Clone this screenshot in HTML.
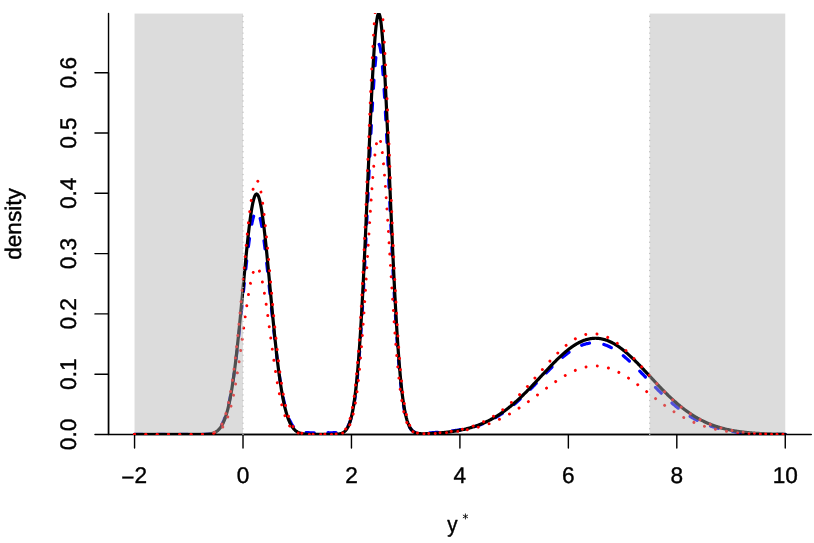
<!DOCTYPE html>
<html><head><meta charset="utf-8"><title>density</title>
<style>
html,body{margin:0;padding:0;background:#fff;}
body{width:814px;height:543px;overflow:hidden;}
svg{display:block;will-change:transform;}
text{font-family:"Liberation Sans",sans-serif;font-size:22.61px;fill:#000;text-rendering:geometricPrecision;stroke:#000;stroke-width:0.4px;stroke-linejoin:round;}
</style></head><body>
<svg width="814" height="543" viewBox="0 0 814 543">
<rect x="0" y="0" width="814" height="543" fill="#fff"/>
<defs><clipPath id="c"><rect x="108" y="13" width="704" height="422"/></clipPath></defs>
<g fill="none" stroke="#000" stroke-width="1.413" stroke-linecap="round" stroke-linejoin="round">
<path d="M108.53,13.57 V434.47 H811.29"/>
<path d="M134.56,434.47 H785.26 M134.56,434.47 v13.57 M243.01,434.47 v13.57 M351.46,434.47 v13.57 M459.91,434.47 v13.57 M568.36,434.47 v13.57 M676.81,434.47 v13.57 M785.26,434.47 v13.57"/>
<path d="M108.53,434.47 V72.74 M108.53,434.47 h-13.57 M108.53,374.18 h-13.57 M108.53,313.89 h-13.57 M108.53,253.60 h-13.57 M108.53,193.31 h-13.57 M108.53,133.03 h-13.57 M108.53,72.74 h-13.57"/>
</g>
<g clip-path="url(#c)" fill="none" stroke-linecap="round" stroke-linejoin="round">
<path d="M134.56,434.47 L135.10,434.47 L135.65,434.47 L136.19,434.47 L136.73,434.47 L137.27,434.47 L137.81,434.47 L138.36,434.47 L138.90,434.47 L139.44,434.47 L139.98,434.47 L140.53,434.47 L141.07,434.47 L141.61,434.47 L142.15,434.47 L142.69,434.47 L143.24,434.47 L143.78,434.47 L144.32,434.47 L144.86,434.47 L145.41,434.47 L145.95,434.47 L146.49,434.47 L147.03,434.47 L147.58,434.47 L148.12,434.47 L148.66,434.47 L149.20,434.47 L149.74,434.47 L150.29,434.47 L150.83,434.47 L151.37,434.47 L151.91,434.47 L152.46,434.47 L153.00,434.47 L153.54,434.47 L154.08,434.47 L154.62,434.47 L155.17,434.47 L155.71,434.47 L156.25,434.47 L156.79,434.47 L157.34,434.47 L157.88,434.47 L158.42,434.47 L158.96,434.47 L159.50,434.47 L160.05,434.47 L160.59,434.47 L161.13,434.47 L161.67,434.47 L162.22,434.47 L162.76,434.47 L163.30,434.47 L163.84,434.47 L164.38,434.47 L164.93,434.47 L165.47,434.47 L166.01,434.47 L166.55,434.47 L167.10,434.47 L167.64,434.47 L168.18,434.47 L168.72,434.47 L169.27,434.47 L169.81,434.47 L170.35,434.47 L170.89,434.47 L171.43,434.47 L171.98,434.47 L172.52,434.47 L173.06,434.47 L173.60,434.47 L174.15,434.47 L174.69,434.47 L175.23,434.47 L175.77,434.47 L176.31,434.47 L176.86,434.47 L177.40,434.47 L177.94,434.47 L178.48,434.47 L179.03,434.47 L179.57,434.47 L180.11,434.47 L180.65,434.47 L181.19,434.47 L181.74,434.47 L182.28,434.47 L182.82,434.47 L183.36,434.47 L183.91,434.47 L184.45,434.47 L184.99,434.47 L185.53,434.47 L186.07,434.47 L186.62,434.47 L187.16,434.47 L187.70,434.47 L188.24,434.47 L188.79,434.46 L189.33,434.46 L189.87,434.46 L190.41,434.46 L190.96,434.46 L191.50,434.46 L192.04,434.46 L192.58,434.46 L193.12,434.46 L193.67,434.46 L194.21,434.46 L194.75,434.45 L195.29,434.45 L195.84,434.45 L196.38,434.45 L196.92,434.44 L197.46,434.44 L198.00,434.43 L198.55,434.43 L199.09,434.42 L199.63,434.41 L200.17,434.40 L200.72,434.39 L201.26,434.38 L201.80,434.37 L202.34,434.35 L202.88,434.33 L203.43,434.31 L203.97,434.28 L204.51,434.26 L205.05,434.22 L205.60,434.19 L206.14,434.14 L206.68,434.10 L207.22,434.04 L207.76,433.98 L208.31,433.91 L208.85,433.83 L209.39,433.74 L209.93,433.64 L210.48,433.52 L211.02,433.39 L211.56,433.25 L212.10,433.09 L212.64,432.91 L213.19,432.71 L213.73,432.48 L214.27,432.23 L214.81,431.95 L215.36,431.65 L215.90,431.30 L216.44,430.93 L216.98,430.51 L217.53,430.05 L218.07,429.55 L218.61,428.99 L219.15,428.39 L219.69,427.72 L220.24,427.00 L220.78,426.21 L221.32,425.35 L221.86,424.41 L222.41,423.40 L222.95,422.30 L223.49,421.11 L224.03,419.83 L224.57,418.46 L225.12,416.97 L225.66,415.38 L226.20,413.68 L226.74,411.86 L227.29,409.91 L227.83,407.84 L228.37,405.64 L228.91,403.30 L229.45,400.83 L230.00,398.21 L230.54,395.45 L231.08,392.54 L231.62,389.48 L232.17,386.28 L232.71,382.92 L233.25,379.41 L233.79,375.75 L234.33,371.94 L234.88,367.99 L235.42,363.89 L235.96,359.66 L236.50,355.29 L237.05,350.79 L237.59,346.17 L238.13,341.44 L238.67,336.60 L239.22,331.66 L239.76,326.64 L240.30,321.54 L240.84,316.39 L241.38,311.18 L241.93,305.94 L242.47,300.68 L243.01,295.41 L243.55,290.15 L244.10,284.93 L244.64,279.74 L245.18,274.62 L245.72,269.58 L246.26,264.64 L246.81,259.82 L247.35,255.13 L247.89,250.59 L248.43,246.22 L248.98,242.04 L249.52,238.06 L250.06,234.31 L250.60,230.79 L251.14,227.53 L251.69,224.52 L252.23,221.80 L252.77,219.37 L253.31,217.24 L253.86,215.42 L254.40,213.91 L254.94,212.74 L255.48,211.89 L256.02,211.38 L256.57,211.20 L257.11,211.36 L257.65,211.86 L258.19,212.69 L258.74,213.86 L259.28,215.35 L259.82,217.15 L260.36,219.27 L260.91,221.69 L261.45,224.40 L261.99,227.39 L262.53,230.64 L263.07,234.14 L263.62,237.88 L264.16,241.84 L264.70,246.01 L265.24,250.36 L265.79,254.89 L266.33,259.56 L266.87,264.37 L267.41,269.30 L267.95,274.33 L268.50,279.43 L269.04,284.60 L269.58,289.81 L270.12,295.05 L270.67,300.30 L271.21,305.55 L271.75,310.77 L272.29,315.96 L272.83,321.11 L273.38,326.19 L273.92,331.19 L274.46,336.11 L275.00,340.94 L275.55,345.65 L276.09,350.26 L276.63,354.74 L277.17,359.09 L277.71,363.31 L278.26,367.39 L278.80,371.33 L279.34,375.12 L279.88,378.76 L280.43,382.25 L280.97,385.59 L281.51,388.78 L282.05,391.82 L282.59,394.71 L283.14,397.45 L283.68,400.05 L284.22,402.51 L284.76,404.83 L285.31,407.01 L285.85,409.07 L286.39,410.99 L286.93,412.79 L287.48,414.48 L288.02,416.05 L288.56,417.52 L289.10,418.88 L289.64,420.14 L290.19,421.31 L290.73,422.39 L291.27,423.38 L291.81,424.30 L292.36,425.14 L292.90,425.91 L293.44,426.62 L293.98,427.27 L294.52,427.85 L295.07,428.39 L295.61,428.88 L296.15,429.32 L296.69,429.72 L297.24,430.08 L297.78,430.40 L298.32,430.69 L298.86,430.95 L299.40,431.18 L299.95,431.39 L300.49,431.58 L301.03,431.74 L301.57,431.89 L302.12,432.01 L302.66,432.13 L303.20,432.23 L303.74,432.31 L304.28,432.39 L304.83,432.45 L305.37,432.51 L305.91,432.56 L306.45,432.60 L307.00,432.63 L307.54,432.66 L308.08,432.68 L308.62,432.70 L309.17,432.72 L309.71,432.73 L310.25,432.74 L310.79,432.75 L311.33,432.75 L311.88,432.76 L312.42,432.76 L312.96,432.76 L313.50,432.76 L314.05,432.76 L314.59,432.76 L315.13,432.75 L315.67,432.75 L316.21,432.75 L316.76,432.75 L317.30,432.74 L317.84,432.74 L318.38,432.74 L318.93,432.73 L319.47,432.73 L320.01,432.73 L320.55,432.72 L321.09,432.72 L321.64,432.72 L322.18,432.72 L322.72,432.72 L323.26,432.72 L323.81,432.72 L324.35,432.72" stroke="#0000ff" stroke-width="3.2" stroke-dasharray="8.11 14.51" stroke-dashoffset="0.00"/>
<path d="M324.35,432.72 L324.89,432.72 L325.43,432.72 L325.97,432.72 L326.52,432.72 L327.06,432.72 L327.60,432.72 L328.14,432.72 L328.69,432.72 L329.23,432.73 L329.77,432.73 L330.31,432.73 L330.85,432.73 L331.40,432.73 L331.94,432.73 L332.48,432.73 L333.02,432.72 L333.57,432.72 L334.11,432.71 L334.65,432.70 L335.19,432.69 L335.74,432.67 L336.28,432.65 L336.82,432.62 L337.36,432.58 L337.90,432.54 L338.45,432.48 L338.99,432.41 L339.53,432.33 L340.07,432.23 L340.62,432.11 L341.16,431.97 L341.70,431.80 L342.24,431.61 L342.78,431.37 L343.33,431.10 L343.87,430.78 L344.41,430.41 L344.95,429.99 L345.50,429.49 L346.04,428.92 L346.58,428.27 L347.12,427.53 L347.66,426.68 L348.21,425.71 L348.75,424.62 L349.29,423.38 L349.83,421.99 L350.38,420.43 L350.92,418.68 L351.46,416.73 L352.00,414.56 L352.54,412.15 L353.09,409.49 L353.63,406.55 L354.17,403.33 L354.71,399.79 L355.26,395.93 L355.80,391.72 L356.34,387.15 L356.88,382.20 L357.43,376.86 L357.97,371.12 L358.51,364.96 L359.05,358.38 L359.59,351.36 L360.14,343.92 L360.68,336.03 L361.22,327.72 L361.76,318.98 L362.31,309.83 L362.85,300.27 L363.39,290.34 L363.93,280.04 L364.47,269.42 L365.02,258.49 L365.56,247.30 L366.10,235.89 L366.64,224.31 L367.19,212.59 L367.73,200.81 L368.27,189.00 L368.81,177.24 L369.35,165.58 L369.90,154.09 L370.44,142.84 L370.98,131.88 L371.52,121.30 L372.07,111.15 L372.61,101.50 L373.15,92.42 L373.69,83.96 L374.23,76.19 L374.78,69.16 L375.32,62.92 L375.86,57.51 L376.40,52.98 L376.95,49.36 L377.49,46.67 L378.03,44.93 L378.57,44.16 L379.12,44.37 L379.66,45.55 L380.20,47.69 L380.74,50.77 L381.28,54.79 L381.83,59.69 L382.37,65.46 L382.91,72.05 L383.45,79.40 L384.00,87.47 L384.54,96.21 L385.08,105.54 L385.62,115.42 L386.16,125.77 L386.71,136.53 L387.25,147.64 L387.79,159.01 L388.33,170.60 L388.88,182.32 L389.42,194.13 L389.96,205.96 L390.50,217.74 L391.04,229.43 L391.59,240.97 L392.13,252.31 L392.67,263.42 L393.21,274.24 L393.76,284.76 L394.30,294.93 L394.84,304.73 L395.38,314.15 L395.92,323.15 L396.47,331.74 L397.01,339.90 L397.55,347.62 L398.09,354.91 L398.64,361.76 L399.18,368.19 L399.72,374.19 L400.26,379.79 L400.80,384.98 L401.35,389.79 L401.89,394.22 L402.43,398.30 L402.97,402.04 L403.52,405.46 L404.06,408.58 L404.60,411.41 L405.14,413.97 L405.69,416.29 L406.23,418.38 L406.77,420.25 L407.31,421.93 L407.85,423.42 L408.40,424.75 L408.94,425.93 L409.48,426.97 L410.02,427.89 L410.57,428.70 L411.11,429.40 L411.65,430.02 L412.19,430.55 L412.73,431.01 L413.28,431.41 L413.82,431.75 L414.36,432.04 L414.90,432.29 L415.45,432.50 L415.99,432.67 L416.53,432.82 L417.07,432.94 L417.61,433.03 L418.16,433.11 L418.70,433.17 L419.24,433.22 L419.78,433.25 L420.33,433.27 L420.87,433.29 L421.41,433.29 L421.95,433.29 L422.49,433.28 L423.04,433.27 L423.58,433.25 L424.12,433.23 L424.66,433.21 L425.21,433.18 L425.75,433.16 L426.29,433.12 L426.83,433.09 L427.38,433.06 L427.92,433.02 L428.46,432.99 L429.00,432.95 L429.54,432.91 L430.09,432.87 L430.63,432.83 L431.17,432.79 L431.71,432.75 L432.26,432.71 L432.80,432.67 L433.34,432.62 L433.88,432.58 L434.42,432.54 L434.97,432.49 L435.51,432.45 L436.05,432.41 L436.59,432.36 L437.14,432.32 L437.68,432.27 L438.22,432.22 L438.76,432.18 L439.30,432.13 L439.85,432.08 L440.39,432.04 L440.93,431.99 L441.47,431.94 L442.02,431.89 L442.56,431.84 L443.10,431.79 L443.64,431.74 L444.18,431.69 L444.73,431.64 L445.27,431.59 L445.81,431.54 L446.35,431.49 L446.90,431.43 L447.44,431.38 L447.98,431.33 L448.52,431.27 L449.07,431.22 L449.61,431.16 L450.15,431.10 L450.69,431.04 L451.23,430.98 L451.78,430.92 L452.32,430.86 L452.86,430.80 L453.40,430.73 L453.95,430.67 L454.49,430.60 L455.03,430.53 L455.57,430.46 L456.11,430.39 L456.66,430.32 L457.20,430.25 L457.74,430.17 L458.28,430.09 L458.83,430.01 L459.37,429.93 L459.91,429.85" stroke="#0000ff" stroke-width="3.2" stroke-dasharray="8.11 14.51" stroke-dashoffset="-3.60"/>
<path d="M459.91,429.85 L460.45,429.77 L460.99,429.68 L461.54,429.59 L462.08,429.50 L462.62,429.40 L463.16,429.31 L463.71,429.21 L464.25,429.11 L464.79,429.00 L465.33,428.90 L465.87,428.79 L466.42,428.68 L466.96,428.56 L467.50,428.45 L468.04,428.33 L468.59,428.21 L469.13,428.08 L469.67,427.95 L470.21,427.82 L470.75,427.68 L471.30,427.55 L471.84,427.41 L472.38,427.26 L472.92,427.11 L473.47,426.96 L474.01,426.81 L474.55,426.65 L475.09,426.49 L475.64,426.32 L476.18,426.16 L476.72,425.98 L477.26,425.81 L477.80,425.63 L478.35,425.45 L478.89,425.26 L479.43,425.07 L479.97,424.88 L480.52,424.68 L481.06,424.48 L481.60,424.27 L482.14,424.06 L482.68,423.85 L483.23,423.63 L483.77,423.41 L484.31,423.19 L484.85,422.96 L485.40,422.73 L485.94,422.49 L486.48,422.25 L487.02,422.00 L487.56,421.75 L488.11,421.50 L488.65,421.24 L489.19,420.98 L489.73,420.72 L490.28,420.45 L490.82,420.17 L491.36,419.89 L491.90,419.61 L492.44,419.33 L492.99,419.03 L493.53,418.74 L494.07,418.44 L494.61,418.14 L495.16,417.83 L495.70,417.52 L496.24,417.20 L496.78,416.88 L497.33,416.56 L497.87,416.23 L498.41,415.89 L498.95,415.56 L499.49,415.22 L500.04,414.87 L500.58,414.52 L501.12,414.16 L501.66,413.81 L502.21,413.44 L502.75,413.07 L503.29,412.70 L503.83,412.33 L504.37,411.95 L504.92,411.56 L505.46,411.17 L506.00,410.78 L506.54,410.38 L507.09,409.98 L507.63,409.58 L508.17,409.17 L508.71,408.75 L509.25,408.34 L509.80,407.91 L510.34,407.49 L510.88,407.06 L511.42,406.62 L511.97,406.19 L512.51,405.74 L513.05,405.30 L513.59,404.85 L514.13,404.39 L514.68,403.94 L515.22,403.48 L515.76,403.01 L516.30,402.54 L516.85,402.07 L517.39,401.59 L517.93,401.11 L518.47,400.63 L519.02,400.15 L519.56,399.66 L520.10,399.16 L520.64,398.67 L521.18,398.17 L521.73,397.66 L522.27,397.16 L522.81,396.65 L523.35,396.14 L523.90,395.62 L524.44,395.10 L524.98,394.58 L525.52,394.06 L526.06,393.53 L526.61,393.00 L527.15,392.47 L527.69,391.94 L528.23,391.40 L528.78,390.87 L529.32,390.32 L529.86,389.78 L530.40,389.24 L530.94,388.69 L531.49,388.14 L532.03,387.59 L532.57,387.04 L533.11,386.49 L533.66,385.93 L534.20,385.38 L534.74,384.82 L535.28,384.26 L535.82,383.70 L536.37,383.14 L536.91,382.58 L537.45,382.02 L537.99,381.46 L538.54,380.89 L539.08,380.33 L539.62,379.77 L540.16,379.20 L540.70,378.64 L541.25,378.08 L541.79,377.51 L542.33,376.95 L542.87,376.39 L543.42,375.82 L543.96,375.26 L544.50,374.70 L545.04,374.14 L545.59,373.58 L546.13,373.02 L546.67,372.47 L547.21,371.91 L547.75,371.36 L548.30,370.81 L548.84,370.26 L549.38,369.71 L549.92,369.16 L550.47,368.62 L551.01,368.08 L551.55,367.54 L552.09,367.00 L552.63,366.47 L553.18,365.93 L553.72,365.41 L554.26,364.88 L554.80,364.36 L555.35,363.84 L555.89,363.33 L556.43,362.81 L556.97,362.31 L557.51,361.80 L558.06,361.30 L558.60,360.81 L559.14,360.32 L559.68,359.83 L560.23,359.35 L560.77,358.87 L561.31,358.40 L561.85,357.93 L562.39,357.47 L562.94,357.01 L563.48,356.56 L564.02,356.11 L564.56,355.67 L565.11,355.23 L565.65,354.80 L566.19,354.38 L566.73,353.96 L567.28,353.55 L567.82,353.14 L568.36,352.74 L568.90,352.35 L569.44,351.96 L569.99,351.58 L570.53,351.21 L571.07,350.85 L571.61,350.49 L572.16,350.14 L572.70,349.79 L573.24,349.46 L573.78,349.13 L574.32,348.81 L574.87,348.49 L575.41,348.19 L575.95,347.89 L576.49,347.60 L577.04,347.31 L577.58,347.04 L578.12,346.77 L578.66,346.52 L579.20,346.27 L579.75,346.02 L580.29,345.79 L580.83,345.57 L581.37,345.35 L581.92,345.15 L582.46,344.95 L583.00,344.76 L583.54,344.58 L584.08,344.41 L584.63,344.24 L585.17,344.09 L585.71,343.94 L586.25,343.81 L586.80,343.68 L587.34,343.57 L587.88,343.46 L588.42,343.36 L588.97,343.27 L589.51,343.19 L590.05,343.12 L590.59,343.06 L591.13,343.01 L591.68,342.96 L592.22,342.93 L592.76,342.91 L593.30,342.89 L593.85,342.89 L594.39,342.89 L594.93,342.91 L595.47,342.93 L596.01,342.96 L596.56,343.01 L597.10,343.06 L597.64,343.12 L598.18,343.19 L598.73,343.27 L599.27,343.36 L599.81,343.46 L600.35,343.57 L600.89,343.68 L601.44,343.81 L601.98,343.94 L602.52,344.09 L603.06,344.24 L603.61,344.41 L604.15,344.58 L604.69,344.76 L605.23,344.95 L605.77,345.15 L606.32,345.35 L606.86,345.57 L607.40,345.79 L607.94,346.02 L608.49,346.27 L609.03,346.52 L609.57,346.77 L610.11,347.04 L610.65,347.31 L611.20,347.60 L611.74,347.89 L612.28,348.19 L612.82,348.49 L613.37,348.81 L613.91,349.13 L614.45,349.46 L614.99,349.79 L615.54,350.14 L616.08,350.49 L616.62,350.85 L617.16,351.21 L617.70,351.58 L618.25,351.96 L618.79,352.35 L619.33,352.74 L619.87,353.14 L620.42,353.55 L620.96,353.96 L621.50,354.38 L622.04,354.80 L622.58,355.23 L623.13,355.67 L623.67,356.11 L624.21,356.56 L624.75,357.01 L625.30,357.47 L625.84,357.93 L626.38,358.40 L626.92,358.87 L627.46,359.35 L628.01,359.83 L628.55,360.32 L629.09,360.81 L629.63,361.30 L630.18,361.80 L630.72,362.31 L631.26,362.81 L631.80,363.33 L632.34,363.84 L632.89,364.36 L633.43,364.88 L633.97,365.41 L634.51,365.93 L635.06,366.47 L635.60,367.00 L636.14,367.54 L636.68,368.08 L637.23,368.62 L637.77,369.16 L638.31,369.71 L638.85,370.26 L639.39,370.81 L639.94,371.36 L640.48,371.91 L641.02,372.47 L641.56,373.02 L642.11,373.58 L642.65,374.14 L643.19,374.70 L643.73,375.26 L644.27,375.82 L644.82,376.39 L645.36,376.95 L645.90,377.51 L646.44,378.08 L646.99,378.64 L647.53,379.20 L648.07,379.77 L648.61,380.33 L649.15,380.89 L649.70,381.46 L650.24,382.02 L650.78,382.58 L651.32,383.14 L651.87,383.70 L652.41,384.26 L652.95,384.82 L653.49,385.38 L654.03,385.93 L654.58,386.49 L655.12,387.04 L655.66,387.59 L656.20,388.14 L656.75,388.69 L657.29,389.24 L657.83,389.78 L658.37,390.32 L658.91,390.87 L659.46,391.40 L660.00,391.94 L660.54,392.47 L661.08,393.00 L661.63,393.53 L662.17,394.06 L662.71,394.58 L663.25,395.10 L663.80,395.62 L664.34,396.14 L664.88,396.65 L665.42,397.16 L665.96,397.66 L666.51,398.17 L667.05,398.67 L667.59,399.16 L668.13,399.66 L668.68,400.15 L669.22,400.63 L669.76,401.11 L670.30,401.59 L670.84,402.07 L671.39,402.54 L671.93,403.01 L672.47,403.48 L673.01,403.94 L673.56,404.40 L674.10,404.85 L674.64,405.30 L675.18,405.74 L675.72,406.19 L676.27,406.63 L676.81,407.06 L677.35,407.49 L677.89,407.92 L678.44,408.34 L678.98,408.76 L679.52,409.17 L680.06,409.58 L680.60,409.99 L681.15,410.39 L681.69,410.78 L682.23,411.18 L682.77,411.57 L683.32,411.95 L683.86,412.33 L684.40,412.71 L684.94,413.08 L685.49,413.45 L686.03,413.81 L686.57,414.17 L687.11,414.53 L687.65,414.88 L688.20,415.23 L688.74,415.57 L689.28,415.91 L689.82,416.24 L690.37,416.57 L690.91,416.90 L691.45,417.22 L691.99,417.54 L692.53,417.85 L693.08,418.16 L693.62,418.47 L694.16,418.77 L694.70,419.07 L695.25,419.36 L695.79,419.65 L696.33,419.94 L696.87,420.22 L697.41,420.49 L697.96,420.77 L698.50,421.04 L699.04,421.30 L699.58,421.56 L700.13,421.82 L700.67,422.07 L701.21,422.32 L701.75,422.57 L702.29,422.81 L702.84,423.05 L703.38,423.28 L703.92,423.51 L704.46,423.74 L705.01,423.97 L705.55,424.19 L706.09,424.40 L706.63,424.62 L707.18,424.82 L707.72,425.03 L708.26,425.23 L708.80,425.43 L709.34,425.63 L709.89,425.82 L710.43,426.01 L710.97,426.20 L711.51,426.38 L712.06,426.56 L712.60,426.73 L713.14,426.91 L713.68,427.08 L714.22,427.24 L714.77,427.41 L715.31,427.57 L715.85,427.73 L716.39,427.88 L716.94,428.03 L717.48,428.18 L718.02,428.33 L718.56,428.47 L719.10,428.61 L719.65,428.75 L720.19,428.89 L720.73,429.02 L721.27,429.15 L721.82,429.28 L722.36,429.40 L722.90,429.52 L723.44,429.64 L723.98,429.76 L724.53,429.88 L725.07,429.99 L725.61,430.10 L726.15,430.21 L726.70,430.31 L727.24,430.42 L727.78,430.52 L728.32,430.62 L728.86,430.72 L729.41,430.81 L729.95,430.90 L730.49,431.00 L731.03,431.08 L731.58,431.17 L732.12,431.26 L732.66,431.34 L733.20,431.42 L733.75,431.50 L734.29,431.58 L734.83,431.66 L735.37,431.73 L735.91,431.80 L736.46,431.87 L737.00,431.94 L737.54,432.01 L738.08,432.08 L738.63,432.14 L739.17,432.21 L739.71,432.27 L740.25,432.33 L740.79,432.39 L741.34,432.44 L741.88,432.50 L742.42,432.55 L742.96,432.61 L743.51,432.66 L744.05,432.71 L744.59,432.76 L745.13,432.81 L745.67,432.86 L746.22,432.90 L746.76,432.95 L747.30,432.99 L747.84,433.03 L748.39,433.07 L748.93,433.11 L749.47,433.15 L750.01,433.19 L750.55,433.23 L751.10,433.27 L751.64,433.30 L752.18,433.34 L752.72,433.37 L753.27,433.40 L753.81,433.43 L754.35,433.46 L754.89,433.49 L755.44,433.52 L755.98,433.55 L756.52,433.58 L757.06,433.61 L757.60,433.63 L758.15,433.66 L758.69,433.68 L759.23,433.71 L759.77,433.73 L760.32,433.75 L760.86,433.78 L761.40,433.80 L761.94,433.82 L762.48,433.84 L763.03,433.86 L763.57,433.88 L764.11,433.90 L764.65,433.92 L765.20,433.93 L765.74,433.95 L766.28,433.97 L766.82,433.98 L767.36,434.00 L767.91,434.01 L768.45,434.03 L768.99,434.04 L769.53,434.06 L770.08,434.07 L770.62,434.08 L771.16,434.10 L771.70,434.11 L772.24,434.12 L772.79,434.13 L773.33,434.14 L773.87,434.15 L774.41,434.16 L774.96,434.17 L775.50,434.18 L776.04,434.19 L776.58,434.20 L777.13,434.21 L777.67,434.22 L778.21,434.23 L778.75,434.24 L779.29,434.25 L779.84,434.25 L780.38,434.26 L780.92,434.27 L781.46,434.28 L782.01,434.28 L782.55,434.29 L783.09,434.29 L783.63,434.30 L784.17,434.31 L784.72,434.31 L785.26,434.32" stroke="#0000ff" stroke-width="3.2" stroke-dasharray="8.11 14.51" stroke-dashoffset="7.30"/>
<path d="M134.56,434.47 L135.10,434.47 L135.65,434.47 L136.19,434.47 L136.73,434.47 L137.27,434.47 L137.81,434.47 L138.36,434.47 L138.90,434.47 L139.44,434.47 L139.98,434.47 L140.53,434.47 L141.07,434.47 L141.61,434.47 L142.15,434.47 L142.69,434.47 L143.24,434.47 L143.78,434.47 L144.32,434.47 L144.86,434.47 L145.41,434.47 L145.95,434.47 L146.49,434.47 L147.03,434.47 L147.58,434.47 L148.12,434.47 L148.66,434.47 L149.20,434.47 L149.74,434.47 L150.29,434.47 L150.83,434.47 L151.37,434.47 L151.91,434.47 L152.46,434.47 L153.00,434.47 L153.54,434.47 L154.08,434.47 L154.62,434.47 L155.17,434.47 L155.71,434.47 L156.25,434.47 L156.79,434.47 L157.34,434.47 L157.88,434.47 L158.42,434.47 L158.96,434.47 L159.50,434.47 L160.05,434.47 L160.59,434.47 L161.13,434.47 L161.67,434.47 L162.22,434.47 L162.76,434.47 L163.30,434.47 L163.84,434.47 L164.38,434.47 L164.93,434.47 L165.47,434.47 L166.01,434.47 L166.55,434.47 L167.10,434.47 L167.64,434.47 L168.18,434.47 L168.72,434.47 L169.27,434.47 L169.81,434.47 L170.35,434.47 L170.89,434.47 L171.43,434.47 L171.98,434.47 L172.52,434.47 L173.06,434.47 L173.60,434.47 L174.15,434.47 L174.69,434.47 L175.23,434.47 L175.77,434.47 L176.31,434.47 L176.86,434.47 L177.40,434.47 L177.94,434.47 L178.48,434.47 L179.03,434.47 L179.57,434.47 L180.11,434.47 L180.65,434.47 L181.19,434.47 L181.74,434.47 L182.28,434.47 L182.82,434.47 L183.36,434.47 L183.91,434.47 L184.45,434.47 L184.99,434.47 L185.53,434.47 L186.07,434.47 L186.62,434.47 L187.16,434.47 L187.70,434.47 L188.24,434.47 L188.79,434.47 L189.33,434.47 L189.87,434.47 L190.41,434.47 L190.96,434.46 L191.50,434.46 L192.04,434.46 L192.58,434.46 L193.12,434.46 L193.67,434.46 L194.21,434.46 L194.75,434.46 L195.29,434.46 L195.84,434.46 L196.38,434.45 L196.92,434.45 L197.46,434.45 L198.00,434.45 L198.55,434.44 L199.09,434.44 L199.63,434.43 L200.17,434.42 L200.72,434.42 L201.26,434.41 L201.80,434.40 L202.34,434.39 L202.88,434.37 L203.43,434.36 L203.97,434.34 L204.51,434.32 L205.05,434.29 L205.60,434.26 L206.14,434.23 L206.68,434.19 L207.22,434.15 L207.76,434.10 L208.31,434.04 L208.85,433.98 L209.39,433.90 L209.93,433.82 L210.48,433.72 L211.02,433.62 L211.56,433.49 L212.10,433.36 L212.64,433.20 L213.19,433.03 L213.73,432.83 L214.27,432.62 L214.81,432.37 L215.36,432.10 L215.90,431.79 L216.44,431.46 L216.98,431.08 L217.53,430.66 L218.07,430.20 L218.61,429.69 L219.15,429.13 L219.69,428.52 L220.24,427.84 L220.78,427.09 L221.32,426.28 L221.86,425.39 L222.41,424.42 L222.95,423.36 L223.49,422.21 L224.03,420.97 L224.57,419.62 L225.12,418.16 L225.66,416.59 L226.20,414.90 L226.74,413.08 L227.29,411.13 L227.83,409.05 L228.37,406.82 L228.91,404.44 L229.45,401.92 L230.00,399.23 L230.54,396.39 L231.08,393.38 L231.62,390.21 L232.17,386.87 L232.71,383.36 L233.25,379.67 L233.79,375.82 L234.33,371.79 L234.88,367.59 L235.42,363.23 L235.96,358.71 L236.50,354.02 L237.05,349.18 L237.59,344.20 L238.13,339.08 L238.67,333.82 L239.22,328.45 L239.76,322.97 L240.30,317.40 L240.84,311.74 L241.38,306.01 L241.93,300.23 L242.47,294.42 L243.01,288.59 L243.55,282.76 L244.10,276.94 L244.64,271.17 L245.18,265.45 L245.72,259.82 L246.26,254.28 L246.81,248.87 L247.35,243.60 L247.89,238.49 L248.43,233.57 L248.98,228.86 L249.52,224.37 L250.06,220.12 L250.60,216.14 L251.14,212.44 L251.69,209.04 L252.23,205.96 L252.77,203.20 L253.31,200.78 L253.86,198.71 L254.40,197.01 L254.94,195.68 L255.48,194.72 L256.02,194.14 L256.57,193.95 L257.11,194.14 L257.65,194.72 L258.19,195.68 L258.74,197.01 L259.28,198.71 L259.82,200.78 L260.36,203.20 L260.91,205.96 L261.45,209.04 L261.99,212.44 L262.53,216.14 L263.07,220.12 L263.62,224.37 L264.16,228.86 L264.70,233.57 L265.24,238.49 L265.79,243.60 L266.33,248.87 L266.87,254.28 L267.41,259.82 L267.95,265.45 L268.50,271.17 L269.04,276.94 L269.58,282.76 L270.12,288.59 L270.67,294.42 L271.21,300.23 L271.75,306.01 L272.29,311.74 L272.83,317.40 L273.38,322.97 L273.92,328.45 L274.46,333.82 L275.00,339.08 L275.55,344.20 L276.09,349.18 L276.63,354.02 L277.17,358.71 L277.71,363.23 L278.26,367.59 L278.80,371.79 L279.34,375.82 L279.88,379.67 L280.43,383.36 L280.97,386.87 L281.51,390.21 L282.05,393.38 L282.59,396.39 L283.14,399.23 L283.68,401.92 L284.22,404.44 L284.76,406.82 L285.31,409.05 L285.85,411.13 L286.39,413.08 L286.93,414.90 L287.48,416.59 L288.02,418.16 L288.56,419.62 L289.10,420.97 L289.64,422.21 L290.19,423.36 L290.73,424.42 L291.27,425.39 L291.81,426.28 L292.36,427.09 L292.90,427.84 L293.44,428.52 L293.98,429.13 L294.52,429.69 L295.07,430.20 L295.61,430.66 L296.15,431.08 L296.69,431.46 L297.24,431.79 L297.78,432.10 L298.32,432.37 L298.86,432.62 L299.40,432.83 L299.95,433.03 L300.49,433.20 L301.03,433.36 L301.57,433.49 L302.12,433.62 L302.66,433.72 L303.20,433.82 L303.74,433.90 L304.28,433.98 L304.83,434.04 L305.37,434.10 L305.91,434.15 L306.45,434.19 L307.00,434.23 L307.54,434.26 L308.08,434.29 L308.62,434.32 L309.17,434.34 L309.71,434.36 L310.25,434.37 L310.79,434.39 L311.33,434.40 L311.88,434.41 L312.42,434.42 L312.96,434.42 L313.50,434.43 L314.05,434.44 L314.59,434.44 L315.13,434.45 L315.67,434.45 L316.21,434.45 L316.76,434.45 L317.30,434.46 L317.84,434.46 L318.38,434.46 L318.93,434.46 L319.47,434.46 L320.01,434.46 L320.55,434.46 L321.09,434.46 L321.64,434.46 L322.18,434.46 L322.72,434.46 L323.26,434.46 L323.81,434.46 L324.35,434.46 L324.89,434.46 L325.43,434.46 L325.97,434.46 L326.52,434.46 L327.06,434.46 L327.60,434.46 L328.14,434.46 L328.69,434.46 L329.23,434.45 L329.77,434.45 L330.31,434.45 L330.85,434.44 L331.40,434.44 L331.94,434.43 L332.48,434.42 L333.02,434.41 L333.57,434.39 L334.11,434.38 L334.65,434.36 L335.19,434.33 L335.74,434.30 L336.28,434.27 L336.82,434.23 L337.36,434.17 L337.90,434.11 L338.45,434.04 L338.99,433.96 L339.53,433.85 L340.07,433.73 L340.62,433.59 L341.16,433.42 L341.70,433.23 L342.24,433.00 L342.78,432.74 L343.33,432.43 L343.87,432.07 L344.41,431.65 L344.95,431.17 L345.50,430.63 L346.04,429.99 L346.58,429.27 L347.12,428.45 L347.66,427.52 L348.21,426.46 L348.75,425.26 L349.29,423.91 L349.83,422.39 L350.38,420.68 L350.92,418.78 L351.46,416.65 L352.00,414.29 L352.54,411.67 L353.09,408.78 L353.63,405.59 L354.17,402.09 L354.71,398.25 L355.26,394.06 L355.80,389.50 L356.34,384.55 L356.88,379.19 L357.43,373.40 L357.97,367.19 L358.51,360.52 L359.05,353.39 L359.59,345.80 L360.14,337.74 L360.68,329.21 L361.22,320.22 L361.76,310.77 L362.31,300.87 L362.85,290.53 L363.39,279.79 L363.93,268.66 L364.47,257.17 L365.02,245.35 L365.56,233.26 L366.10,220.92 L366.64,208.40 L367.19,195.74 L367.73,182.99 L368.27,170.23 L368.81,157.52 L369.35,144.91 L369.90,132.49 L370.44,120.33 L370.98,108.49 L371.52,97.04 L372.07,86.07 L372.61,75.64 L373.15,65.82 L373.69,56.68 L374.23,48.27 L374.78,40.67 L375.32,33.91 L375.86,28.06 L376.40,23.16 L376.95,19.23 L377.49,16.31 L378.03,14.42 L378.57,13.58 L379.12,13.79 L379.66,15.05 L380.20,17.35 L380.74,20.67 L381.28,24.99 L381.83,30.28 L382.37,36.49 L382.91,43.59 L383.45,51.52 L384.00,60.22 L384.54,69.64 L385.08,79.71 L385.62,90.36 L386.16,101.53 L386.71,113.14 L387.25,125.12 L387.79,137.39 L388.33,149.89 L388.88,162.54 L389.42,175.28 L389.96,188.04 L390.50,200.75 L391.04,213.36 L391.59,225.81 L392.13,238.05 L392.67,250.04 L393.21,261.72 L393.76,273.07 L394.30,284.05 L394.84,294.62 L395.38,304.78 L395.92,314.50 L396.47,323.77 L397.01,332.57 L397.55,340.91 L398.09,348.77 L398.64,356.17 L399.18,363.11 L399.72,369.59 L400.26,375.63 L400.80,381.23 L401.35,386.42 L401.89,391.21 L402.43,395.62 L402.97,399.66 L403.52,403.35 L404.06,406.72 L404.60,409.78 L405.14,412.55 L405.69,415.06 L406.23,417.32 L406.77,419.34 L407.31,421.16 L407.85,422.78 L408.40,424.22 L408.94,425.50 L409.48,426.63 L410.02,427.63 L410.57,428.51 L411.11,429.28 L411.65,429.95 L412.19,430.54 L412.73,431.05 L413.28,431.49 L413.82,431.87 L414.36,432.19 L414.90,432.47 L415.45,432.71 L415.99,432.91 L416.53,433.08 L417.07,433.22 L417.61,433.34 L418.16,433.44 L418.70,433.52 L419.24,433.58 L419.78,433.64 L420.33,433.68 L420.87,433.71 L421.41,433.73 L421.95,433.74 L422.49,433.75 L423.04,433.75 L423.58,433.75 L424.12,433.75 L424.66,433.74 L425.21,433.73 L425.75,433.71 L426.29,433.70 L426.83,433.68 L427.38,433.66 L427.92,433.64 L428.46,433.62 L429.00,433.59 L429.54,433.57 L430.09,433.54 L430.63,433.52 L431.17,433.49 L431.71,433.46 L432.26,433.43 L432.80,433.40 L433.34,433.36 L433.88,433.33 L434.42,433.30 L434.97,433.26 L435.51,433.23 L436.05,433.19 L436.59,433.15 L437.14,433.11 L437.68,433.07 L438.22,433.03 L438.76,432.99 L439.30,432.95 L439.85,432.90 L440.39,432.86 L440.93,432.81 L441.47,432.76 L442.02,432.71 L442.56,432.66 L443.10,432.61 L443.64,432.56 L444.18,432.50 L444.73,432.45 L445.27,432.39 L445.81,432.33 L446.35,432.27 L446.90,432.21 L447.44,432.15 L447.98,432.09 L448.52,432.02 L449.07,431.95 L449.61,431.88 L450.15,431.81 L450.69,431.74 L451.23,431.67 L451.78,431.59 L452.32,431.52 L452.86,431.44 L453.40,431.36 L453.95,431.28 L454.49,431.19 L455.03,431.10 L455.57,431.02 L456.11,430.93 L456.66,430.84 L457.20,430.74 L457.74,430.64 L458.28,430.55 L458.83,430.45 L459.37,430.34 L459.91,430.24 L460.45,430.13 L460.99,430.02 L461.54,429.91 L462.08,429.80 L462.62,429.68 L463.16,429.56 L463.71,429.44 L464.25,429.32 L464.79,429.19 L465.33,429.07 L465.87,428.94 L466.42,428.80 L466.96,428.67 L467.50,428.53 L468.04,428.39 L468.59,428.24 L469.13,428.09 L469.67,427.94 L470.21,427.79 L470.75,427.64 L471.30,427.48 L471.84,427.32 L472.38,427.15 L472.92,426.98 L473.47,426.81 L474.01,426.64 L474.55,426.46 L475.09,426.28 L475.64,426.10 L476.18,425.91 L476.72,425.72 L477.26,425.53 L477.80,425.33 L478.35,425.13 L478.89,424.93 L479.43,424.72 L479.97,424.51 L480.52,424.30 L481.06,424.08 L481.60,423.86 L482.14,423.64 L482.68,423.41 L483.23,423.18 L483.77,422.94 L484.31,422.70 L484.85,422.46 L485.40,422.21 L485.94,421.96 L486.48,421.71 L487.02,421.45 L487.56,421.18 L488.11,420.92 L488.65,420.65 L489.19,420.37 L489.73,420.10 L490.28,419.81 L490.82,419.53 L491.36,419.24 L491.90,418.94 L492.44,418.64 L492.99,418.34 L493.53,418.03 L494.07,417.72 L494.61,417.41 L495.16,417.09 L495.70,416.76 L496.24,416.44 L496.78,416.10 L497.33,415.77 L497.87,415.43 L498.41,415.08 L498.95,414.73 L499.49,414.38 L500.04,414.02 L500.58,413.66 L501.12,413.29 L501.66,412.92 L502.21,412.55 L502.75,412.17 L503.29,411.79 L503.83,411.40 L504.37,411.01 L504.92,410.61 L505.46,410.21 L506.00,409.81 L506.54,409.40 L507.09,408.98 L507.63,408.57 L508.17,408.14 L508.71,407.72 L509.25,407.29 L509.80,406.85 L510.34,406.42 L510.88,405.97 L511.42,405.53 L511.97,405.08 L512.51,404.62 L513.05,404.16 L513.59,403.70 L514.13,403.23 L514.68,402.76 L515.22,402.29 L515.76,401.81 L516.30,401.33 L516.85,400.84 L517.39,400.35 L517.93,399.86 L518.47,399.36 L519.02,398.86 L519.56,398.36 L520.10,397.85 L520.64,397.34 L521.18,396.83 L521.73,396.31 L522.27,395.79 L522.81,395.27 L523.35,394.74 L523.90,394.21 L524.44,393.68 L524.98,393.14 L525.52,392.60 L526.06,392.06 L526.61,391.52 L527.15,390.97 L527.69,390.42 L528.23,389.87 L528.78,389.31 L529.32,388.76 L529.86,388.20 L530.40,387.64 L530.94,387.08 L531.49,386.51 L532.03,385.94 L532.57,385.38 L533.11,384.80 L533.66,384.23 L534.20,383.66 L534.74,383.08 L535.28,382.51 L535.82,381.93 L536.37,381.35 L536.91,380.77 L537.45,380.19 L537.99,379.61 L538.54,379.03 L539.08,378.45 L539.62,377.86 L540.16,377.28 L540.70,376.70 L541.25,376.11 L541.79,375.53 L542.33,374.95 L542.87,374.36 L543.42,373.78 L543.96,373.20 L544.50,372.62 L545.04,372.04 L545.59,371.46 L546.13,370.88 L546.67,370.30 L547.21,369.72 L547.75,369.15 L548.30,368.57 L548.84,368.00 L549.38,367.43 L549.92,366.86 L550.47,366.29 L551.01,365.73 L551.55,365.17 L552.09,364.61 L552.63,364.05 L553.18,363.49 L553.72,362.94 L554.26,362.39 L554.80,361.85 L555.35,361.30 L555.89,360.76 L556.43,360.23 L556.97,359.70 L557.51,359.17 L558.06,358.64 L558.60,358.12 L559.14,357.60 L559.68,357.09 L560.23,356.58 L560.77,356.08 L561.31,355.58 L561.85,355.08 L562.39,354.59 L562.94,354.11 L563.48,353.63 L564.02,353.16 L564.56,352.69 L565.11,352.22 L565.65,351.77 L566.19,351.31 L566.73,350.87 L567.28,350.43 L567.82,349.99 L568.36,349.57 L568.90,349.14 L569.44,348.73 L569.99,348.32 L570.53,347.92 L571.07,347.52 L571.61,347.14 L572.16,346.76 L572.70,346.38 L573.24,346.02 L573.78,345.66 L574.32,345.31 L574.87,344.96 L575.41,344.63 L575.95,344.30 L576.49,343.98 L577.04,343.66 L577.58,343.36 L578.12,343.06 L578.66,342.77 L579.20,342.49 L579.75,342.22 L580.29,341.96 L580.83,341.70 L581.37,341.46 L581.92,341.22 L582.46,340.99 L583.00,340.77 L583.54,340.56 L584.08,340.36 L584.63,340.17 L585.17,339.98 L585.71,339.81 L586.25,339.64 L586.80,339.48 L587.34,339.34 L587.88,339.20 L588.42,339.07 L588.97,338.95 L589.51,338.84 L590.05,338.74 L590.59,338.65 L591.13,338.57 L591.68,338.50 L592.22,338.43 L592.76,338.38 L593.30,338.34 L593.85,338.30 L594.39,338.28 L594.93,338.27 L595.47,338.26 L596.01,338.27 L596.56,338.28 L597.10,338.30 L597.64,338.34 L598.18,338.38 L598.73,338.43 L599.27,338.50 L599.81,338.57 L600.35,338.65 L600.89,338.74 L601.44,338.84 L601.98,338.95 L602.52,339.07 L603.06,339.20 L603.61,339.34 L604.15,339.48 L604.69,339.64 L605.23,339.81 L605.77,339.98 L606.32,340.17 L606.86,340.36 L607.40,340.56 L607.94,340.77 L608.49,340.99 L609.03,341.22 L609.57,341.46 L610.11,341.70 L610.65,341.96 L611.20,342.22 L611.74,342.49 L612.28,342.77 L612.82,343.06 L613.37,343.36 L613.91,343.66 L614.45,343.98 L614.99,344.30 L615.54,344.63 L616.08,344.96 L616.62,345.31 L617.16,345.66 L617.70,346.02 L618.25,346.38 L618.79,346.76 L619.33,347.14 L619.87,347.52 L620.42,347.92 L620.96,348.32 L621.50,348.73 L622.04,349.14 L622.58,349.57 L623.13,349.99 L623.67,350.43 L624.21,350.87 L624.75,351.31 L625.30,351.77 L625.84,352.22 L626.38,352.69 L626.92,353.16 L627.46,353.63 L628.01,354.11 L628.55,354.59 L629.09,355.08 L629.63,355.58 L630.18,356.08 L630.72,356.58 L631.26,357.09 L631.80,357.60 L632.34,358.12 L632.89,358.64 L633.43,359.17 L633.97,359.70 L634.51,360.23 L635.06,360.76 L635.60,361.30 L636.14,361.85 L636.68,362.39 L637.23,362.94 L637.77,363.49 L638.31,364.05 L638.85,364.61 L639.39,365.17 L639.94,365.73 L640.48,366.29 L641.02,366.86 L641.56,367.43 L642.11,368.00 L642.65,368.57 L643.19,369.15 L643.73,369.72 L644.27,370.30 L644.82,370.88 L645.36,371.46 L645.90,372.04 L646.44,372.62 L646.99,373.20 L647.53,373.78 L648.07,374.36 L648.61,374.95 L649.15,375.53 L649.70,376.11 L650.24,376.70 L650.78,377.28 L651.32,377.86 L651.87,378.45 L652.41,379.03 L652.95,379.61 L653.49,380.19 L654.03,380.77 L654.58,381.35 L655.12,381.93 L655.66,382.51 L656.20,383.08 L656.75,383.66 L657.29,384.23 L657.83,384.80 L658.37,385.38 L658.91,385.94 L659.46,386.51 L660.00,387.08 L660.54,387.64 L661.08,388.20 L661.63,388.76 L662.17,389.31 L662.71,389.87 L663.25,390.42 L663.80,390.97 L664.34,391.52 L664.88,392.06 L665.42,392.60 L665.96,393.14 L666.51,393.68 L667.05,394.21 L667.59,394.74 L668.13,395.27 L668.68,395.79 L669.22,396.31 L669.76,396.83 L670.30,397.34 L670.84,397.85 L671.39,398.36 L671.93,398.86 L672.47,399.36 L673.01,399.86 L673.56,400.35 L674.10,400.84 L674.64,401.33 L675.18,401.81 L675.72,402.29 L676.27,402.76 L676.81,403.23 L677.35,403.70 L677.89,404.16 L678.44,404.62 L678.98,405.08 L679.52,405.53 L680.06,405.97 L680.60,406.42 L681.15,406.85 L681.69,407.29 L682.23,407.72 L682.77,408.14 L683.32,408.57 L683.86,408.98 L684.40,409.40 L684.94,409.81 L685.49,410.21 L686.03,410.61 L686.57,411.01 L687.11,411.40 L687.65,411.79 L688.20,412.17 L688.74,412.55 L689.28,412.92 L689.82,413.29 L690.37,413.66 L690.91,414.02 L691.45,414.38 L691.99,414.73 L692.53,415.08 L693.08,415.43 L693.62,415.77 L694.16,416.10 L694.70,416.44 L695.25,416.76 L695.79,417.09 L696.33,417.41 L696.87,417.72 L697.41,418.03 L697.96,418.34 L698.50,418.64 L699.04,418.94 L699.58,419.24 L700.13,419.53 L700.67,419.81 L701.21,420.10 L701.75,420.37 L702.29,420.65 L702.84,420.92 L703.38,421.18 L703.92,421.45 L704.46,421.71 L705.01,421.96 L705.55,422.21 L706.09,422.46 L706.63,422.70 L707.18,422.94 L707.72,423.18 L708.26,423.41 L708.80,423.64 L709.34,423.86 L709.89,424.08 L710.43,424.30 L710.97,424.51 L711.51,424.72 L712.06,424.93 L712.60,425.13 L713.14,425.33 L713.68,425.53 L714.22,425.72 L714.77,425.91 L715.31,426.10 L715.85,426.28 L716.39,426.46 L716.94,426.64 L717.48,426.81 L718.02,426.98 L718.56,427.15 L719.10,427.32 L719.65,427.48 L720.19,427.64 L720.73,427.79 L721.27,427.94 L721.82,428.09 L722.36,428.24 L722.90,428.39 L723.44,428.53 L723.98,428.67 L724.53,428.80 L725.07,428.94 L725.61,429.07 L726.15,429.19 L726.70,429.32 L727.24,429.44 L727.78,429.56 L728.32,429.68 L728.86,429.80 L729.41,429.91 L729.95,430.02 L730.49,430.13 L731.03,430.24 L731.58,430.34 L732.12,430.45 L732.66,430.55 L733.20,430.64 L733.75,430.74 L734.29,430.84 L734.83,430.93 L735.37,431.02 L735.91,431.10 L736.46,431.19 L737.00,431.28 L737.54,431.36 L738.08,431.44 L738.63,431.52 L739.17,431.59 L739.71,431.67 L740.25,431.74 L740.79,431.81 L741.34,431.88 L741.88,431.95 L742.42,432.02 L742.96,432.09 L743.51,432.15 L744.05,432.21 L744.59,432.27 L745.13,432.33 L745.67,432.39 L746.22,432.45 L746.76,432.50 L747.30,432.56 L747.84,432.61 L748.39,432.66 L748.93,432.71 L749.47,432.76 L750.01,432.81 L750.55,432.86 L751.10,432.90 L751.64,432.95 L752.18,432.99 L752.72,433.03 L753.27,433.07 L753.81,433.11 L754.35,433.15 L754.89,433.19 L755.44,433.23 L755.98,433.26 L756.52,433.30 L757.06,433.33 L757.60,433.37 L758.15,433.40 L758.69,433.43 L759.23,433.46 L759.77,433.49 L760.32,433.52 L760.86,433.55 L761.40,433.58 L761.94,433.60 L762.48,433.63 L763.03,433.65 L763.57,433.68 L764.11,433.70 L764.65,433.73 L765.20,433.75 L765.74,433.77 L766.28,433.79 L766.82,433.81 L767.36,433.83 L767.91,433.85 L768.45,433.87 L768.99,433.89 L769.53,433.91 L770.08,433.93 L770.62,433.94 L771.16,433.96 L771.70,433.98 L772.24,433.99 L772.79,434.01 L773.33,434.02 L773.87,434.04 L774.41,434.05 L774.96,434.06 L775.50,434.08 L776.04,434.09 L776.58,434.10 L777.13,434.11 L777.67,434.13 L778.21,434.14 L778.75,434.15 L779.29,434.16 L779.84,434.17 L780.38,434.18 L780.92,434.19 L781.46,434.20 L782.01,434.21 L782.55,434.22 L783.09,434.22 L783.63,434.23 L784.17,434.24 L784.72,434.25 L785.26,434.26" stroke="#000" stroke-width="3.2"/>
<path d="M134.56,434.47 L135.10,434.47 L135.65,434.47 L136.19,434.47 L136.73,434.47 L137.27,434.47 L137.81,434.47 L138.36,434.47 L138.90,434.47 L139.44,434.47 L139.98,434.47 L140.53,434.47 L141.07,434.47 L141.61,434.47 L142.15,434.47 L142.69,434.47 L143.24,434.47 L143.78,434.47 L144.32,434.47 L144.86,434.47 L145.41,434.47 L145.95,434.47 L146.49,434.47 L147.03,434.47 L147.58,434.47 L148.12,434.47 L148.66,434.47 L149.20,434.47 L149.74,434.47 L150.29,434.47 L150.83,434.47 L151.37,434.47 L151.91,434.47 L152.46,434.47 L153.00,434.47 L153.54,434.47 L154.08,434.47 L154.62,434.47 L155.17,434.47 L155.71,434.47 L156.25,434.47 L156.79,434.47 L157.34,434.47 L157.88,434.47 L158.42,434.47 L158.96,434.47 L159.50,434.47 L160.05,434.47 L160.59,434.47 L161.13,434.47 L161.67,434.47 L162.22,434.47 L162.76,434.47 L163.30,434.47 L163.84,434.47 L164.38,434.47 L164.93,434.47 L165.47,434.47 L166.01,434.47 L166.55,434.47 L167.10,434.47 L167.64,434.47 L168.18,434.47 L168.72,434.47 L169.27,434.47 L169.81,434.47 L170.35,434.47 L170.89,434.47 L171.43,434.47 L171.98,434.47 L172.52,434.47 L173.06,434.47 L173.60,434.47 L174.15,434.47 L174.69,434.47 L175.23,434.47 L175.77,434.47 L176.31,434.47 L176.86,434.47 L177.40,434.47 L177.94,434.47 L178.48,434.47 L179.03,434.47 L179.57,434.47 L180.11,434.47 L180.65,434.47 L181.19,434.47 L181.74,434.47 L182.28,434.47 L182.82,434.47 L183.36,434.47 L183.91,434.47 L184.45,434.47 L184.99,434.47 L185.53,434.47 L186.07,434.47 L186.62,434.47 L187.16,434.47 L187.70,434.47 L188.24,434.47 L188.79,434.47 L189.33,434.47 L189.87,434.47 L190.41,434.47 L190.96,434.46 L191.50,434.46 L192.04,434.46 L192.58,434.46 L193.12,434.46 L193.67,434.46 L194.21,434.46 L194.75,434.46 L195.29,434.46 L195.84,434.46 L196.38,434.45 L196.92,434.45 L197.46,434.45 L198.00,434.45 L198.55,434.44 L199.09,434.44 L199.63,434.43 L200.17,434.43 L200.72,434.42 L201.26,434.41 L201.80,434.40 L202.34,434.39 L202.88,434.37 L203.43,434.36 L203.97,434.34 L204.51,434.31 L205.05,434.29" stroke="#ff0000" stroke-width="2.95" stroke-dasharray="0.01 11.296" stroke-dashoffset="0.00"/>
<path d="M205.05,434.29 L205.60,434.26 L206.14,434.22 L206.68,434.18 L207.22,434.13 L207.76,434.08 L208.31,434.02 L208.85,433.95 L209.39,433.87 L209.93,433.78 L210.48,433.67 L211.02,433.55 L211.56,433.42 L212.10,433.26 L212.64,433.09 L213.19,432.90 L213.73,432.68 L214.27,432.43 L214.81,432.16 L215.36,431.85 L215.90,431.50 L216.44,431.12 L216.98,430.69 L217.53,430.22 L218.07,429.70 L218.61,429.12 L219.15,428.48 L219.69,427.78 L220.24,427.01 L220.78,426.17 L221.32,425.25 L221.86,424.24 L222.41,423.15 L222.95,421.96 L223.49,420.67 L224.03,419.28 L224.57,417.78 L225.12,416.16 L225.66,414.42 L226.20,412.55 L226.74,410.55 L227.29,408.41 L227.83,406.13 L228.37,403.70 L228.91,401.13 L229.45,398.39 L230.00,395.50 L230.54,392.44 L231.08,389.22 L231.62,385.84 L232.17,382.28 L232.71,378.55 L233.25,374.66 L233.79,370.59 L234.33,366.35 L234.88,361.95 L235.42,357.38 L235.96,352.65 L236.50,347.77 L237.05,342.73 L237.59,337.55 L238.13,332.23 L238.67,326.79 L239.22,321.22 L239.76,315.55 L240.30,309.79 L240.84,303.94 L241.38,298.02 L241.93,292.05 L242.47,286.04 L243.01,280.01 L243.55,273.98 L244.10,267.97 L244.64,261.99 L245.18,256.07 L245.72,250.22 L246.26,244.47 L246.81,238.85 L247.35,233.36 L247.89,228.03 L248.43,222.89 L248.98,217.96 L249.52,213.25 L250.06,208.78 L250.60,204.58 L251.14,200.67 L251.69,197.06 L252.23,193.77 L252.77,190.81 L253.31,188.20 L253.86,185.96 L254.40,184.08 L254.94,182.59 L255.48,181.48 L256.02,180.76 L256.57,180.45 L257.11,180.53 L257.65,181.00 L258.19,181.88 L258.74,183.14 L259.28,184.80 L259.82,186.82 L260.36,189.22 L260.91,191.97 L261.45,195.06 L261.99,198.49 L262.53,202.22 L263.07,206.25 L263.62,210.56 L264.16,215.12 L264.70,219.93 L265.24,224.95 L265.79,230.17 L266.33,235.56 L266.87,241.10 L267.41,246.78 L267.95,252.57 L268.50,258.45 L269.04,264.39 L269.58,270.38 L270.12,276.40 L270.67,282.43 L271.21,288.45 L271.75,294.44 L272.29,300.38 L272.83,306.27 L273.38,312.08 L273.92,317.80 L274.46,323.42 L275.00,328.93 L275.55,334.32 L276.09,339.58 L276.63,344.69 L277.17,349.66 L277.71,354.48 L278.26,359.13 L278.80,363.63 L279.34,367.96 L279.88,372.12 L280.43,376.11 L280.97,379.93 L281.51,383.58 L282.05,387.07 L282.59,390.38 L283.14,393.53 L283.68,396.51 L284.22,399.34 L284.76,402.01 L285.31,404.52 L285.85,406.88 L286.39,409.10 L286.93,411.18 L287.48,413.13 L288.02,414.94 L288.56,416.63 L289.10,418.21 L289.64,419.66 L290.19,421.01 L290.73,422.26 L291.27,423.41 L291.81,424.47 L292.36,425.44 L292.90,426.33 L293.44,427.14 L293.98,427.88 L294.52,428.55 L295.07,429.17 L295.61,429.72 L296.15,430.23 L296.69,430.68 L297.24,431.09 L297.78,431.45 L298.32,431.78 L298.86,432.08 L299.40,432.34 L299.95,432.58 L300.49,432.78 L301.03,432.97 L301.57,433.13 L302.12,433.28 L302.66,433.40 L303.20,433.51 L303.74,433.61 L304.28,433.70 L304.83,433.77 L305.37,433.84 L305.91,433.90 L306.45,433.94 L307.00,433.99 L307.54,434.02 L308.08,434.06 L308.62,434.08 L309.17,434.11 L309.71,434.13 L310.25,434.14 L310.79,434.16 L311.33,434.17 L311.88,434.18 L312.42,434.19 L312.96,434.19 L313.50,434.20 L314.05,434.20 L314.59,434.21 L315.13,434.21 L315.67,434.21 L316.21,434.22 L316.76,434.22 L317.30,434.22 L317.84,434.22 L318.38,434.22 L318.93,434.22 L319.47,434.22 L320.01,434.22 L320.55,434.22 L321.09,434.22 L321.64,434.22 L322.18,434.22 L322.72,434.22 L323.26,434.22 L323.81,434.22 L324.35,434.22" stroke="#ff0000" stroke-width="2.95" stroke-dasharray="0.01 11.296" stroke-dashoffset="1.66"/>
<path d="M324.35,434.22 L324.89,434.22 L325.43,434.22 L325.97,434.22 L326.52,434.22 L327.06,434.22 L327.60,434.22 L328.14,434.21 L328.69,434.21 L329.23,434.21 L329.77,434.20 L330.31,434.20 L330.85,434.19 L331.40,434.18 L331.94,434.17 L332.48,434.16 L333.02,434.15 L333.57,434.13 L334.11,434.10 L334.65,434.08 L335.19,434.04 L335.74,434.01 L336.28,433.96 L336.82,433.90 L337.36,433.83 L337.90,433.75 L338.45,433.66 L338.99,433.55 L339.53,433.41 L340.07,433.26 L340.62,433.08 L341.16,432.86 L341.70,432.61 L342.24,432.33 L342.78,431.99 L343.33,431.60 L343.87,431.16 L344.41,430.65 L344.95,430.06 L345.50,429.39 L346.04,428.62 L346.58,427.75 L347.12,426.76 L347.66,425.64 L348.21,424.38 L348.75,422.97 L349.29,421.38 L349.83,419.60 L350.38,417.61 L350.92,415.40 L351.46,412.95 L352.00,410.24 L352.54,407.25 L353.09,403.96 L353.63,400.35 L354.17,396.41 L354.71,392.10 L355.26,387.42 L355.80,382.34 L356.34,376.86 L356.88,370.94 L357.43,364.58 L357.97,357.77 L358.51,350.49 L359.05,342.74 L359.59,334.52 L360.14,325.82 L360.68,316.64 L361.22,306.99 L361.76,296.88 L362.31,286.32 L362.85,275.34 L363.39,263.95 L363.93,252.18 L364.47,240.06 L365.02,227.64 L365.56,214.95 L366.10,202.04 L366.64,188.95 L367.19,175.76 L367.73,162.51 L368.27,149.26 L368.81,136.09 L369.35,123.06 L369.90,110.23 L370.44,97.69 L370.98,85.51 L371.52,73.74 L372.07,62.48 L372.61,51.79 L373.15,41.73 L373.69,32.38 L374.23,23.79 L374.78,16.02 L375.32,9.13 L375.86,3.16 L376.40,-1.84 L376.95,-5.84 L377.49,-8.81 L378.03,-10.73 L378.57,-11.59 L379.12,-11.38 L379.66,-10.09 L380.20,-7.75 L380.74,-4.36 L381.28,0.04 L381.83,5.44 L382.37,11.78 L382.91,19.03 L383.45,27.13 L384.00,36.03 L384.54,45.68 L385.08,56.00 L385.62,66.93 L386.16,78.40 L386.71,90.34 L387.25,102.68 L387.79,115.34 L388.33,128.25 L388.88,141.35 L389.42,154.56 L389.96,167.81 L390.50,181.05 L391.04,194.21 L391.59,207.22 L392.13,220.05 L392.67,232.64 L393.21,244.95 L393.76,256.93 L394.30,268.55 L394.84,279.78 L395.38,290.59 L395.92,300.97 L396.47,310.90 L397.01,320.36 L397.55,329.34 L398.09,337.85 L398.64,345.88 L399.18,353.44 L399.72,360.53 L400.26,367.15 L400.80,373.33 L401.35,379.07 L401.89,384.39 L402.43,389.30 L402.97,393.82 L403.52,397.98 L404.06,401.78 L404.60,405.26 L405.14,408.42 L405.69,411.29 L406.23,413.89 L406.77,416.23 L407.31,418.34 L407.85,420.24 L408.40,421.93 L408.94,423.44 L409.48,424.79 L410.02,425.98 L410.57,427.04 L411.11,427.97 L411.65,428.79 L412.19,429.51 L412.73,430.13 L413.28,430.68 L413.82,431.15 L414.36,431.56 L414.90,431.92 L415.45,432.22 L415.99,432.48 L416.53,432.70 L417.07,432.89 L417.61,433.04 L418.16,433.18 L418.70,433.28 L419.24,433.37 L419.78,433.45 L420.33,433.50 L420.87,433.55 L421.41,433.58 L421.95,433.61 L422.49,433.63 L423.04,433.64 L423.58,433.64 L424.12,433.64 L424.66,433.64 L425.21,433.63 L425.75,433.61 L426.29,433.60 L426.83,433.58 L427.38,433.56 L427.92,433.54 L428.46,433.52 L429.00,433.49 L429.54,433.46 L430.09,433.43 L430.63,433.40 L431.17,433.37 L431.71,433.34 L432.26,433.31 L432.80,433.27 L433.34,433.24 L433.88,433.20 L434.42,433.16 L434.97,433.12 L435.51,433.08 L436.05,433.04 L436.59,433.00 L437.14,432.96 L437.68,432.91 L438.22,432.87 L438.76,432.82 L439.30,432.77 L439.85,432.72 L440.39,432.67 L440.93,432.62 L441.47,432.57 L442.02,432.51 L442.56,432.45 L443.10,432.40 L443.64,432.34 L444.18,432.28 L444.73,432.22 L445.27,432.15 L445.81,432.09 L446.35,432.02 L446.90,431.95 L447.44,431.88 L447.98,431.81 L448.52,431.74 L449.07,431.66 L449.61,431.59 L450.15,431.51 L450.69,431.43 L451.23,431.35 L451.78,431.26 L452.32,431.18 L452.86,431.09 L453.40,431.00 L453.95,430.91 L454.49,430.81 L455.03,430.72 L455.57,430.62 L456.11,430.52 L456.66,430.41 L457.20,430.31 L457.74,430.20 L458.28,430.09 L458.83,429.98 L459.37,429.87 L459.91,429.75" stroke="#ff0000" stroke-width="2.95" stroke-dasharray="0.01 11.296" stroke-dashoffset="-0.50"/>
<path d="M459.91,429.75 L460.45,429.63 L460.99,429.51 L461.54,429.39 L462.08,429.26 L462.62,429.13 L463.16,429.00 L463.71,428.86 L464.25,428.73 L464.79,428.59 L465.33,428.44 L465.87,428.30 L466.42,428.15 L466.96,428.00 L467.50,427.84 L468.04,427.68 L468.59,427.52 L469.13,427.36 L469.67,427.19 L470.21,427.02 L470.75,426.85 L471.30,426.67 L471.84,426.49 L472.38,426.31 L472.92,426.12 L473.47,425.93 L474.01,425.74 L474.55,425.54 L475.09,425.34 L475.64,425.14 L476.18,424.93 L476.72,424.72 L477.26,424.51 L477.80,424.29 L478.35,424.07 L478.89,423.84 L479.43,423.61 L479.97,423.38 L480.52,423.14 L481.06,422.90 L481.60,422.65 L482.14,422.40 L482.68,422.15 L483.23,421.89 L483.77,421.63 L484.31,421.37 L484.85,421.10 L485.40,420.82 L485.94,420.55 L486.48,420.27 L487.02,419.98 L487.56,419.69 L488.11,419.39 L488.65,419.09 L489.19,418.79 L489.73,418.48 L490.28,418.17 L490.82,417.86 L491.36,417.53 L491.90,417.21 L492.44,416.88 L492.99,416.55 L493.53,416.21 L494.07,415.86 L494.61,415.52 L495.16,415.16 L495.70,414.81 L496.24,414.45 L496.78,414.08 L497.33,413.71 L497.87,413.33 L498.41,412.95 L498.95,412.57 L499.49,412.18 L500.04,411.79 L500.58,411.39 L501.12,410.99 L501.66,410.58 L502.21,410.17 L502.75,409.75 L503.29,409.33 L503.83,408.91 L504.37,408.48 L504.92,408.04 L505.46,407.60 L506.00,407.16 L506.54,406.71 L507.09,406.26 L507.63,405.80 L508.17,405.34 L508.71,404.87 L509.25,404.40 L509.80,403.93 L510.34,403.45 L510.88,402.97 L511.42,402.48 L511.97,401.99 L512.51,401.49 L513.05,400.99 L513.59,400.49 L514.13,399.98 L514.68,399.47 L515.22,398.95 L515.76,398.43 L516.30,397.91 L516.85,397.38 L517.39,396.85 L517.93,396.31 L518.47,395.77 L519.02,395.23 L519.56,394.69 L520.10,394.14 L520.64,393.58 L521.18,393.03 L521.73,392.47 L522.27,391.90 L522.81,391.34 L523.35,390.77 L523.90,390.20 L524.44,389.62 L524.98,389.04 L525.52,388.46 L526.06,387.88 L526.61,387.29 L527.15,386.70 L527.69,386.11 L528.23,385.52 L528.78,384.92 L529.32,384.33 L529.86,383.73 L530.40,383.13 L530.94,382.52 L531.49,381.92 L532.03,381.31 L532.57,380.70 L533.11,380.09 L533.66,379.48 L534.20,378.87 L534.74,378.26 L535.28,377.64 L535.82,377.03 L536.37,376.41 L536.91,375.80 L537.45,375.18 L537.99,374.56 L538.54,373.95 L539.08,373.33 L539.62,372.71 L540.16,372.09 L540.70,371.48 L541.25,370.86 L541.79,370.24 L542.33,369.63 L542.87,369.01 L543.42,368.40 L543.96,367.78 L544.50,367.17 L545.04,366.56 L545.59,365.95 L546.13,365.35 L546.67,364.74 L547.21,364.14 L547.75,363.54 L548.30,362.94 L548.84,362.34 L549.38,361.74 L549.92,361.15 L550.47,360.56 L551.01,359.98 L551.55,359.39 L552.09,358.81 L552.63,358.23 L553.18,357.66 L553.72,357.09 L554.26,356.52 L554.80,355.96 L555.35,355.40 L555.89,354.85 L556.43,354.30 L556.97,353.75 L557.51,353.21 L558.06,352.67 L558.60,352.14 L559.14,351.62 L559.68,351.09 L560.23,350.58 L560.77,350.07 L561.31,349.56 L561.85,349.06 L562.39,348.57 L562.94,348.08 L563.48,347.60 L564.02,347.12 L564.56,346.65 L565.11,346.19 L565.65,345.74 L566.19,345.29 L566.73,344.84 L567.28,344.41 L567.82,343.98 L568.36,343.56 L568.90,343.15 L569.44,342.74 L569.99,342.34 L570.53,341.95 L571.07,341.57 L571.61,341.19 L572.16,340.82 L572.70,340.46 L573.24,340.11 L573.78,339.77 L574.32,339.44 L574.87,339.11 L575.41,338.80 L575.95,338.49 L576.49,338.19 L577.04,337.90 L577.58,337.62 L578.12,337.35 L578.66,337.08 L579.20,336.83 L579.75,336.58 L580.29,336.35 L580.83,336.12 L581.37,335.91 L581.92,335.70 L582.46,335.50 L583.00,335.32 L583.54,335.14 L584.08,334.97 L584.63,334.82 L585.17,334.67 L585.71,334.53 L586.25,334.40 L586.80,334.29 L587.34,334.18 L587.88,334.08 L588.42,333.99 L588.97,333.92 L589.51,333.85 L590.05,333.79 L590.59,333.75 L591.13,333.71 L591.68,333.69 L592.22,333.67 L592.76,333.67 L593.30,333.67 L593.85,333.68 L594.39,333.71 L594.93,333.74 L595.47,333.79 L596.01,333.84 L596.56,333.91 L597.10,333.98 L597.64,334.06 L598.18,334.16 L598.73,334.26 L599.27,334.37 L599.81,334.50 L600.35,334.63 L600.89,334.77 L601.44,334.92 L601.98,335.08 L602.52,335.25 L603.06,335.43 L603.61,335.62 L604.15,335.82 L604.69,336.03 L605.23,336.25 L605.77,336.47 L606.32,336.71 L606.86,336.95 L607.40,337.20 L607.94,337.47 L608.49,337.74 L609.03,338.02 L609.57,338.30 L610.11,338.60 L610.65,338.90 L611.20,339.22 L611.74,339.54 L612.28,339.87 L612.82,340.21 L613.37,340.55 L613.91,340.91 L614.45,341.27 L614.99,341.64 L615.54,342.01 L616.08,342.40 L616.62,342.79 L617.16,343.19 L617.70,343.60 L618.25,344.01 L618.79,344.43 L619.33,344.86 L619.87,345.29 L620.42,345.73 L620.96,346.18 L621.50,346.63 L622.04,347.09 L622.58,347.56 L623.13,348.03 L623.67,348.50 L624.21,348.99 L624.75,349.48 L625.30,349.97 L625.84,350.47 L626.38,350.98 L626.92,351.49 L627.46,352.00 L628.01,352.52 L628.55,353.04 L629.09,353.57 L629.63,354.11 L630.18,354.65 L630.72,355.19 L631.26,355.73 L631.80,356.28 L632.34,356.84 L632.89,357.39 L633.43,357.95 L633.97,358.52 L634.51,359.09 L635.06,359.66 L635.60,360.23 L636.14,360.81 L636.68,361.39 L637.23,361.97 L637.77,362.55 L638.31,363.14 L638.85,363.73 L639.39,364.32 L639.94,364.91 L640.48,365.50 L641.02,366.10 L641.56,366.70 L642.11,367.29 L642.65,367.89 L643.19,368.50 L643.73,369.10 L644.27,369.70 L644.82,370.30 L645.36,370.91 L645.90,371.51 L646.44,372.12 L646.99,372.72 L647.53,373.33 L648.07,373.93 L648.61,374.54 L649.15,375.14 L649.70,375.75 L650.24,376.35 L650.78,376.96 L651.32,377.56 L651.87,378.16 L652.41,378.76 L652.95,379.36 L653.49,379.96 L654.03,380.56 L654.58,381.15 L655.12,381.75 L655.66,382.34 L656.20,382.94 L656.75,383.53 L657.29,384.11 L657.83,384.70 L658.37,385.28 L658.91,385.87 L659.46,386.45 L660.00,387.02 L660.54,387.60 L661.08,388.17 L661.63,388.74 L662.17,389.31 L662.71,389.88 L663.25,390.44 L663.80,391.00 L664.34,391.56 L664.88,392.11 L665.42,392.66 L665.96,393.21 L666.51,393.75 L667.05,394.29 L667.59,394.83 L668.13,395.37 L668.68,395.90 L669.22,396.42 L669.76,396.95 L670.30,397.47 L670.84,397.99 L671.39,398.50 L671.93,399.01 L672.47,399.51 L673.01,400.02 L673.56,400.51 L674.10,401.01 L674.64,401.50 L675.18,401.98 L675.72,402.47 L676.27,402.94 L676.81,403.42 L677.35,403.89 L677.89,404.35 L678.44,404.81 L678.98,405.27 L679.52,405.72 L680.06,406.17 L680.60,406.62 L681.15,407.06 L681.69,407.49 L682.23,407.92 L682.77,408.35 L683.32,408.77 L683.86,409.19 L684.40,409.61 L684.94,410.02 L685.49,410.42 L686.03,410.82 L686.57,411.22 L687.11,411.61 L687.65,412.00 L688.20,412.38 L688.74,412.76 L689.28,413.14 L689.82,413.51 L690.37,413.87 L690.91,414.23 L691.45,414.59 L691.99,414.94 L692.53,415.29 L693.08,415.63 L693.62,415.97 L694.16,416.31 L694.70,416.64 L695.25,416.97 L695.79,417.29 L696.33,417.60 L696.87,417.92 L697.41,418.23 L697.96,418.53 L698.50,418.83 L699.04,419.13 L699.58,419.42 L700.13,419.71 L700.67,420.00 L701.21,420.28 L701.75,420.55 L702.29,420.82 L702.84,421.09 L703.38,421.36 L703.92,421.62 L704.46,421.87 L705.01,422.13 L705.55,422.37 L706.09,422.62 L706.63,422.86 L707.18,423.10 L707.72,423.33 L708.26,423.56 L708.80,423.79 L709.34,424.01 L709.89,424.23 L710.43,424.44 L710.97,424.65 L711.51,424.86 L712.06,425.07 L712.60,425.27 L713.14,425.46 L713.68,425.66 L714.22,425.85 L714.77,426.04 L715.31,426.22 L715.85,426.40 L716.39,426.58 L716.94,426.75 L717.48,426.93 L718.02,427.09 L718.56,427.26 L719.10,427.42 L719.65,427.58 L720.19,427.74 L720.73,427.89 L721.27,428.04 L721.82,428.19 L722.36,428.34 L722.90,428.48 L723.44,428.62 L723.98,428.75 L724.53,428.89 L725.07,429.02 L725.61,429.15 L726.15,429.28 L726.70,429.40 L727.24,429.52 L727.78,429.64 L728.32,429.76 L728.86,429.87 L729.41,429.98 L729.95,430.09 L730.49,430.20 L731.03,430.30 L731.58,430.41 L732.12,430.51 L732.66,430.61 L733.20,430.70 L733.75,430.80 L734.29,430.89 L734.83,430.98 L735.37,431.07 L735.91,431.16 L736.46,431.24 L737.00,431.32 L737.54,431.41 L738.08,431.48 L738.63,431.56 L739.17,431.64 L739.71,431.71 L740.25,431.78 L740.79,431.85 L741.34,431.92 L741.88,431.99 L742.42,432.06 L742.96,432.12 L743.51,432.18 L744.05,432.25 L744.59,432.31 L745.13,432.36 L745.67,432.42 L746.22,432.48 L746.76,432.53 L747.30,432.59 L747.84,432.64 L748.39,432.69 L748.93,432.74 L749.47,432.79 L750.01,432.83 L750.55,432.88 L751.10,432.92 L751.64,432.97 L752.18,433.01 L752.72,433.05 L753.27,433.09 L753.81,433.13 L754.35,433.17 L754.89,433.21 L755.44,433.24 L755.98,433.28 L756.52,433.31 L757.06,433.35 L757.60,433.38 L758.15,433.41 L758.69,433.44 L759.23,433.47 L759.77,433.50 L760.32,433.53 L760.86,433.56 L761.40,433.59 L761.94,433.61 L762.48,433.64 L763.03,433.66 L763.57,433.69 L764.11,433.71 L764.65,433.73 L765.20,433.76 L765.74,433.78 L766.28,433.80 L766.82,433.82 L767.36,433.84 L767.91,433.86 L768.45,433.88 L768.99,433.90 L769.53,433.92 L770.08,433.93 L770.62,433.95 L771.16,433.97 L771.70,433.98 L772.24,434.00 L772.79,434.01 L773.33,434.03 L773.87,434.04 L774.41,434.05 L774.96,434.07 L775.50,434.08 L776.04,434.09 L776.58,434.11 L777.13,434.12 L777.67,434.13 L778.21,434.14 L778.75,434.15 L779.29,434.16 L779.84,434.17 L780.38,434.18 L780.92,434.19 L781.46,434.20 L782.01,434.21 L782.55,434.22 L783.09,434.23 L783.63,434.23 L784.17,434.24 L784.72,434.25 L785.26,434.26" stroke="#ff0000" stroke-width="2.95" stroke-dasharray="0.01 11.296" stroke-dashoffset="-2.50"/>
<path d="M134.56,434.47 L135.10,434.47 L135.65,434.47 L136.19,434.47 L136.73,434.47 L137.27,434.47 L137.81,434.47 L138.36,434.47 L138.90,434.47 L139.44,434.47 L139.98,434.47 L140.53,434.47 L141.07,434.47 L141.61,434.47 L142.15,434.47 L142.69,434.47 L143.24,434.47 L143.78,434.47 L144.32,434.47 L144.86,434.47 L145.41,434.47 L145.95,434.47 L146.49,434.47 L147.03,434.47 L147.58,434.47 L148.12,434.47 L148.66,434.47 L149.20,434.47 L149.74,434.47 L150.29,434.47 L150.83,434.47 L151.37,434.47 L151.91,434.47 L152.46,434.47 L153.00,434.47 L153.54,434.47 L154.08,434.47 L154.62,434.47 L155.17,434.47 L155.71,434.47 L156.25,434.47 L156.79,434.47 L157.34,434.47 L157.88,434.47 L158.42,434.47 L158.96,434.47 L159.50,434.47 L160.05,434.47 L160.59,434.47 L161.13,434.47 L161.67,434.47 L162.22,434.47 L162.76,434.47 L163.30,434.47 L163.84,434.47 L164.38,434.47 L164.93,434.47 L165.47,434.47 L166.01,434.47 L166.55,434.47 L167.10,434.47 L167.64,434.47 L168.18,434.47 L168.72,434.47 L169.27,434.47 L169.81,434.47 L170.35,434.47 L170.89,434.47 L171.43,434.47 L171.98,434.47 L172.52,434.47 L173.06,434.47 L173.60,434.47 L174.15,434.47 L174.69,434.47 L175.23,434.47 L175.77,434.47 L176.31,434.47 L176.86,434.47 L177.40,434.47 L177.94,434.47 L178.48,434.47 L179.03,434.47 L179.57,434.47 L180.11,434.47 L180.65,434.47 L181.19,434.47 L181.74,434.47 L182.28,434.47 L182.82,434.47 L183.36,434.47 L183.91,434.47 L184.45,434.47 L184.99,434.47 L185.53,434.47 L186.07,434.47 L186.62,434.47 L187.16,434.47 L187.70,434.47 L188.24,434.47 L188.79,434.47 L189.33,434.47 L189.87,434.47 L190.41,434.47 L190.96,434.47 L191.50,434.47 L192.04,434.46 L192.58,434.46 L193.12,434.46 L193.67,434.46 L194.21,434.46 L194.75,434.46 L195.29,434.46 L195.84,434.46 L196.38,434.46 L196.92,434.46 L197.46,434.45 L198.00,434.45 L198.55,434.45 L199.09,434.45 L199.63,434.44 L200.17,434.44 L200.72,434.43 L201.26,434.43 L201.80,434.42 L202.34,434.41 L202.88,434.40 L203.43,434.39 L203.97,434.38 L204.51,434.36 L205.05,434.34 L205.60,434.32 L206.14,434.30 L206.68,434.28 L207.22,434.24 L207.76,434.21 L208.31,434.17 L208.85,434.13 L209.39,434.07 L209.93,434.02 L210.48,433.95 L211.02,433.88 L211.56,433.79 L212.10,433.70 L212.64,433.59 L213.19,433.47 L213.73,433.33 L214.27,433.18 L214.81,433.01 L215.36,432.82 L215.90,432.61 L216.44,432.38 L216.98,432.11 L217.53,431.82 L218.07,431.50 L218.61,431.15 L219.15,430.76 L219.69,430.33 L220.24,429.86 L220.78,429.34 L221.32,428.78 L221.86,428.16 L222.41,427.48 L222.95,426.75 L223.49,425.95 L224.03,425.09 L224.57,424.15 L225.12,423.14 L225.66,422.04 L226.20,420.87 L226.74,419.61 L227.29,418.25 L227.83,416.80 L228.37,415.26 L228.91,413.61 L229.45,411.85 L230.00,409.99 L230.54,408.01 L231.08,405.92 L231.62,403.72 L232.17,401.39 L232.71,398.95 L233.25,396.39 L233.79,393.71 L234.33,390.92 L234.88,388.00 L235.42,384.97 L235.96,381.83 L236.50,378.57 L237.05,375.21 L237.59,371.75 L238.13,368.19 L238.67,364.54 L239.22,360.80 L239.76,357.00 L240.30,353.12 L240.84,349.19 L241.38,345.21 L241.93,341.20 L242.47,337.16 L243.01,333.10 L243.55,329.05 L244.10,325.01 L244.64,321.00 L245.18,317.03 L245.72,313.11 L246.26,309.27 L246.81,305.51 L247.35,301.84 L247.89,298.30 L248.43,294.88 L248.98,291.60 L249.52,288.48 L250.06,285.53 L250.60,282.77 L251.14,280.20 L251.69,277.83 L252.23,275.69 L252.77,273.77 L253.31,272.09 L253.86,270.66 L254.40,269.47 L254.94,268.55 L255.48,267.88 L256.02,267.48 L256.57,267.35 L257.11,267.48 L257.65,267.88 L258.19,268.55 L258.74,269.47 L259.28,270.66 L259.82,272.09 L260.36,273.77 L260.91,275.69 L261.45,277.83 L261.99,280.20 L262.53,282.77 L263.07,285.53 L263.62,288.48 L264.16,291.60 L264.70,294.88 L265.24,298.30 L265.79,301.84 L266.33,305.51 L266.87,309.27 L267.41,313.11 L267.95,317.03 L268.50,321.00 L269.04,325.01 L269.58,329.05 L270.12,333.10 L270.67,337.16 L271.21,341.20 L271.75,345.21 L272.29,349.19 L272.83,353.12 L273.38,357.00 L273.92,360.80 L274.46,364.54 L275.00,368.19 L275.55,371.75 L276.09,375.21 L276.63,378.57 L277.17,381.83 L277.71,384.97 L278.26,388.00 L278.80,390.92 L279.34,393.71 L279.88,396.39 L280.43,398.95 L280.97,401.39 L281.51,403.72 L282.05,405.92 L282.59,408.01 L283.14,409.99 L283.68,411.85 L284.22,413.61 L284.76,415.26 L285.31,416.80 L285.85,418.25 L286.39,419.61 L286.93,420.87 L287.48,422.04 L288.02,423.14 L288.56,424.15 L289.10,425.09 L289.64,425.95 L290.19,426.75 L290.73,427.48 L291.27,428.16 L291.81,428.78 L292.36,429.34 L292.90,429.86 L293.44,430.33 L293.98,430.76 L294.52,431.15 L295.07,431.50 L295.61,431.82 L296.15,432.11 L296.69,432.38 L297.24,432.61 L297.78,432.82 L298.32,433.01 L298.86,433.18 L299.40,433.33 L299.95,433.47 L300.49,433.59 L301.03,433.70 L301.57,433.79 L302.12,433.88 L302.66,433.95 L303.20,434.02 L303.74,434.07 L304.28,434.13 L304.83,434.17 L305.37,434.21 L305.91,434.24 L306.45,434.28 L307.00,434.30 L307.54,434.32 L308.08,434.34 L308.62,434.36 L309.17,434.38 L309.71,434.39 L310.25,434.40 L310.79,434.41 L311.33,434.42 L311.88,434.43 L312.42,434.43 L312.96,434.44 L313.50,434.44 L314.05,434.45 L314.59,434.45 L315.13,434.45 L315.67,434.45 L316.21,434.46 L316.76,434.46 L317.30,434.46 L317.84,434.46 L318.38,434.46 L318.93,434.46 L319.47,434.46 L320.01,434.46 L320.55,434.46 L321.09,434.46 L321.64,434.46 L322.18,434.46 L322.72,434.46 L323.26,434.46 L323.81,434.46 L324.35,434.46" stroke="#ff0000" stroke-width="2.95" stroke-dasharray="0.01 11.296" stroke-dashoffset="0.00"/>
<path d="M324.35,434.46 L324.89,434.46 L325.43,434.46 L325.97,434.46 L326.52,434.46 L327.06,434.46 L327.60,434.46 L328.14,434.46 L328.69,434.46 L329.23,434.45 L329.77,434.45 L330.31,434.45 L330.85,434.44 L331.40,434.44 L331.94,434.43 L332.48,434.42 L333.02,434.41 L333.57,434.40 L334.11,434.38 L334.65,434.36 L335.19,434.34 L335.74,434.32 L336.28,434.28 L336.82,434.25 L337.36,434.20 L337.90,434.15 L338.45,434.09 L338.99,434.01 L339.53,433.93 L340.07,433.82 L340.62,433.70 L341.16,433.56 L341.70,433.40 L342.24,433.21 L342.78,432.99 L343.33,432.74 L343.87,432.45 L344.41,432.11 L344.95,431.73 L345.50,431.29 L346.04,430.78 L346.58,430.21 L347.12,429.56 L347.66,428.83 L348.21,428.00 L348.75,427.07 L349.29,426.02 L349.83,424.85 L350.38,423.54 L350.92,422.08 L351.46,420.47 L352.00,418.68 L352.54,416.71 L353.09,414.53 L353.63,412.15 L354.17,409.54 L354.71,406.69 L355.26,403.59 L355.80,400.23 L356.34,396.59 L356.88,392.67 L357.43,388.46 L357.97,383.94 L358.51,379.11 L359.05,373.97 L359.59,368.50 L360.14,362.72 L360.68,356.62 L361.22,350.21 L361.76,343.48 L362.31,336.46 L362.85,329.14 L363.39,321.56 L363.93,313.72 L364.47,305.65 L365.02,297.37 L365.56,288.91 L366.10,280.29 L366.64,271.57 L367.19,262.76 L367.73,253.92 L368.27,245.08 L368.81,236.28 L369.35,227.58 L369.90,219.01 L370.44,210.63 L370.98,202.49 L371.52,194.63 L372.07,187.10 L372.61,179.95 L373.15,173.22 L373.69,166.97 L374.23,161.22 L374.78,156.03 L375.32,151.42 L375.86,147.42 L376.40,144.08 L376.95,141.40 L377.49,139.41 L378.03,138.12 L378.57,137.55 L379.12,137.69 L379.66,138.55 L380.20,140.12 L380.74,142.38 L381.28,145.32 L381.83,148.93 L382.37,153.17 L382.91,158.02 L383.45,163.44 L384.00,169.39 L384.54,175.83 L385.08,182.73 L385.62,190.04 L386.16,197.70 L386.71,205.68 L387.25,213.92 L387.79,222.38 L388.33,231.00 L388.88,239.74 L389.42,248.56 L389.96,257.40 L390.50,266.24 L391.04,275.01 L391.59,283.69 L392.13,292.24 L392.67,300.63 L393.21,308.83 L393.76,316.81 L394.30,324.54 L394.84,332.02 L395.38,339.21 L395.92,346.11 L396.47,352.71 L397.01,359.00 L397.55,364.97 L398.09,370.62 L398.64,375.95 L399.18,380.96 L399.72,385.66 L400.26,390.05 L400.80,394.14 L401.35,397.94 L401.89,401.46 L402.43,404.71 L402.97,407.70 L403.52,410.45 L404.06,412.96 L404.60,415.25 L405.14,417.34 L405.69,419.23 L406.23,420.94 L406.77,422.48 L407.31,423.87 L407.85,425.12 L408.40,426.23 L408.94,427.22 L409.48,428.10 L410.02,428.89 L410.57,429.58 L411.11,430.19 L411.65,430.72 L412.19,431.19 L412.73,431.60 L413.28,431.95 L413.82,432.26 L414.36,432.53 L414.90,432.75 L415.45,432.95 L415.99,433.12 L416.53,433.26 L417.07,433.38 L417.61,433.48 L418.16,433.56 L418.70,433.63 L419.24,433.69 L419.78,433.73 L420.33,433.77 L420.87,433.79 L421.41,433.81 L421.95,433.83 L422.49,433.84 L423.04,433.84 L423.58,433.84 L424.12,433.84 L424.66,433.83 L425.21,433.83 L425.75,433.81 L426.29,433.80 L426.83,433.79 L427.38,433.77 L427.92,433.76 L428.46,433.74 L429.00,433.72 L429.54,433.70 L430.09,433.68 L430.63,433.66 L431.17,433.63 L431.71,433.61 L432.26,433.58 L432.80,433.56 L433.34,433.53 L433.88,433.51 L434.42,433.48 L434.97,433.45 L435.51,433.42 L436.05,433.39 L436.59,433.36 L437.14,433.33 L437.68,433.30 L438.22,433.26 L438.76,433.23 L439.30,433.19 L439.85,433.16 L440.39,433.12 L440.93,433.09 L441.47,433.05 L442.02,433.01 L442.56,432.97 L443.10,432.93 L443.64,432.88 L444.18,432.84 L444.73,432.80 L445.27,432.75 L445.81,432.71 L446.35,432.66 L446.90,432.61 L447.44,432.56 L447.98,432.51 L448.52,432.46 L449.07,432.41 L449.61,432.35 L450.15,432.30 L450.69,432.24 L451.23,432.18 L451.78,432.12 L452.32,432.06 L452.86,432.00 L453.40,431.94 L453.95,431.87 L454.49,431.81 L455.03,431.74 L455.57,431.67 L456.11,431.60 L456.66,431.53 L457.20,431.46 L457.74,431.38 L458.28,431.31 L458.83,431.23 L459.37,431.15 L459.91,431.07" stroke="#ff0000" stroke-width="2.95" stroke-dasharray="0.01 11.296" stroke-dashoffset="-7.10"/>
<path d="M459.91,431.07 L460.45,430.99 L460.99,430.90 L461.54,430.82 L462.08,430.73 L462.62,430.64 L463.16,430.55 L463.71,430.46 L464.25,430.36 L464.79,430.27 L465.33,430.17 L465.87,430.07 L466.42,429.97 L466.96,429.86 L467.50,429.76 L468.04,429.65 L468.59,429.54 L469.13,429.43 L469.67,429.31 L470.21,429.20 L470.75,429.08 L471.30,428.96 L471.84,428.84 L472.38,428.71 L472.92,428.58 L473.47,428.46 L474.01,428.32 L474.55,428.19 L475.09,428.05 L475.64,427.92 L476.18,427.78 L476.72,427.63 L477.26,427.49 L477.80,427.34 L478.35,427.19 L478.89,427.04 L479.43,426.88 L479.97,426.73 L480.52,426.57 L481.06,426.41 L481.60,426.24 L482.14,426.07 L482.68,425.90 L483.23,425.73 L483.77,425.56 L484.31,425.38 L484.85,425.20 L485.40,425.01 L485.94,424.83 L486.48,424.64 L487.02,424.45 L487.56,424.26 L488.11,424.06 L488.65,423.86 L489.19,423.66 L489.73,423.45 L490.28,423.24 L490.82,423.03 L491.36,422.82 L491.90,422.60 L492.44,422.38 L492.99,422.16 L493.53,421.94 L494.07,421.71 L494.61,421.48 L495.16,421.25 L495.70,421.01 L496.24,420.77 L496.78,420.53 L497.33,420.28 L497.87,420.03 L498.41,419.78 L498.95,419.53 L499.49,419.27 L500.04,419.01 L500.58,418.75 L501.12,418.48 L501.66,418.21 L502.21,417.94 L502.75,417.67 L503.29,417.39 L503.83,417.11 L504.37,416.83 L504.92,416.54 L505.46,416.25 L506.00,415.96 L506.54,415.66 L507.09,415.36 L507.63,415.06 L508.17,414.76 L508.71,414.45 L509.25,414.15 L509.80,413.83 L510.34,413.52 L510.88,413.20 L511.42,412.88 L511.97,412.56 L512.51,412.23 L513.05,411.90 L513.59,411.57 L514.13,411.24 L514.68,410.90 L515.22,410.56 L515.76,410.22 L516.30,409.88 L516.85,409.53 L517.39,409.18 L517.93,408.83 L518.47,408.48 L519.02,408.12 L519.56,407.77 L520.10,407.41 L520.64,407.04 L521.18,406.68 L521.73,406.31 L522.27,405.94 L522.81,405.57 L523.35,405.20 L523.90,404.82 L524.44,404.45 L524.98,404.07 L525.52,403.69 L526.06,403.30 L526.61,402.92 L527.15,402.53 L527.69,402.15 L528.23,401.76 L528.78,401.37 L529.32,400.97 L529.86,400.58 L530.40,400.19 L530.94,399.79 L531.49,399.39 L532.03,398.99 L532.57,398.59 L533.11,398.19 L533.66,397.79 L534.20,397.39 L534.74,396.99 L535.28,396.58 L535.82,396.18 L536.37,395.77 L536.91,395.37 L537.45,394.96 L537.99,394.56 L538.54,394.15 L539.08,393.74 L539.62,393.33 L540.16,392.93 L540.70,392.52 L541.25,392.11 L541.79,391.71 L542.33,391.30 L542.87,390.89 L543.42,390.49 L543.96,390.08 L544.50,389.68 L545.04,389.27 L545.59,388.87 L546.13,388.47 L546.67,388.06 L547.21,387.66 L547.75,387.26 L548.30,386.86 L548.84,386.47 L549.38,386.07 L549.92,385.68 L550.47,385.28 L551.01,384.89 L551.55,384.50 L552.09,384.11 L552.63,383.73 L553.18,383.34 L553.72,382.96 L554.26,382.58 L554.80,382.20 L555.35,381.83 L555.89,381.45 L556.43,381.08 L556.97,380.71 L557.51,380.35 L558.06,379.99 L558.60,379.63 L559.14,379.27 L559.68,378.92 L560.23,378.56 L560.77,378.22 L561.31,377.87 L561.85,377.53 L562.39,377.19 L562.94,376.86 L563.48,376.53 L564.02,376.20 L564.56,375.88 L565.11,375.56 L565.65,375.25 L566.19,374.94 L566.73,374.63 L567.28,374.33 L567.82,374.03 L568.36,373.73 L568.90,373.44 L569.44,373.16 L569.99,372.88 L570.53,372.60 L571.07,372.33 L571.61,372.06 L572.16,371.80 L572.70,371.55 L573.24,371.29 L573.78,371.05 L574.32,370.81 L574.87,370.57 L575.41,370.34 L575.95,370.12 L576.49,369.90 L577.04,369.68 L577.58,369.47 L578.12,369.27 L578.66,369.07 L579.20,368.88 L579.75,368.69 L580.29,368.51 L580.83,368.34 L581.37,368.17 L581.92,368.01 L582.46,367.85 L583.00,367.70 L583.54,367.55 L584.08,367.42 L584.63,367.28 L585.17,367.16 L585.71,367.04 L586.25,366.92 L586.80,366.82 L587.34,366.72 L587.88,366.62 L588.42,366.53 L588.97,366.45 L589.51,366.38 L590.05,366.31 L590.59,366.25 L591.13,366.19 L591.68,366.14 L592.22,366.10 L592.76,366.06 L593.30,366.03 L593.85,366.01 L594.39,365.99 L594.93,365.98 L595.47,365.98 L596.01,365.98 L596.56,365.99 L597.10,366.01 L597.64,366.04 L598.18,366.07 L598.73,366.11 L599.27,366.16 L599.81,366.21 L600.35,366.27 L600.89,366.34 L601.44,366.41 L601.98,366.50 L602.52,366.59 L603.06,366.68 L603.61,366.79 L604.15,366.90 L604.69,367.01 L605.23,367.14 L605.77,367.27 L606.32,367.41 L606.86,367.55 L607.40,367.70 L607.94,367.86 L608.49,368.02 L609.03,368.19 L609.57,368.37 L610.11,368.56 L610.65,368.75 L611.20,368.94 L611.74,369.15 L612.28,369.36 L612.82,369.57 L613.37,369.79 L613.91,370.02 L614.45,370.25 L614.99,370.49 L615.54,370.74 L616.08,370.99 L616.62,371.25 L617.16,371.51 L617.70,371.77 L618.25,372.05 L618.79,372.33 L619.33,372.61 L619.87,372.90 L620.42,373.19 L620.96,373.49 L621.50,373.80 L622.04,374.10 L622.58,374.42 L623.13,374.74 L623.67,375.06 L624.21,375.39 L624.75,375.72 L625.30,376.05 L625.84,376.39 L626.38,376.74 L626.92,377.09 L627.46,377.44 L628.01,377.79 L628.55,378.15 L629.09,378.52 L629.63,378.88 L630.18,379.25 L630.72,379.63 L631.26,380.00 L631.80,380.38 L632.34,380.77 L632.89,381.15 L633.43,381.54 L633.97,381.93 L634.51,382.32 L635.06,382.72 L635.60,383.12 L636.14,383.52 L636.68,383.92 L637.23,384.33 L637.77,384.73 L638.31,385.14 L638.85,385.55 L639.39,385.97 L639.94,386.38 L640.48,386.80 L641.02,387.21 L641.56,387.63 L642.11,388.05 L642.65,388.47 L643.19,388.89 L643.73,389.32 L644.27,389.74 L644.82,390.16 L645.36,390.59 L645.90,391.01 L646.44,391.44 L646.99,391.86 L647.53,392.29 L648.07,392.71 L648.61,393.14 L649.15,393.57 L649.70,393.99 L650.24,394.42 L650.78,394.84 L651.32,395.27 L651.87,395.69 L652.41,396.12 L652.95,396.54 L653.49,396.96 L654.03,397.38 L654.58,397.80 L655.12,398.22 L655.66,398.64 L656.20,399.06 L656.75,399.48 L657.29,399.89 L657.83,400.31 L658.37,400.72 L658.91,401.13 L659.46,401.54 L660.00,401.95 L660.54,402.35 L661.08,402.76 L661.63,403.16 L662.17,403.56 L662.71,403.96 L663.25,404.36 L663.80,404.75 L664.34,405.15 L664.88,405.54 L665.42,405.92 L665.96,406.31 L666.51,406.69 L667.05,407.08 L667.59,407.46 L668.13,407.83 L668.68,408.21 L669.22,408.58 L669.76,408.95 L670.30,409.31 L670.84,409.68 L671.39,410.04 L671.93,410.40 L672.47,410.75 L673.01,411.11 L673.56,411.46 L674.10,411.80 L674.64,412.15 L675.18,412.49 L675.72,412.83 L676.27,413.16 L676.81,413.49 L677.35,413.82 L677.89,414.15 L678.44,414.47 L678.98,414.79 L679.52,415.11 L680.06,415.42 L680.60,415.74 L681.15,416.04 L681.69,416.35 L682.23,416.65 L682.77,416.95 L683.32,417.24 L683.86,417.53 L684.40,417.82 L684.94,418.11 L685.49,418.39 L686.03,418.67 L686.57,418.95 L687.11,419.22 L687.65,419.49 L688.20,419.75 L688.74,420.02 L689.28,420.28 L689.82,420.53 L690.37,420.79 L690.91,421.04 L691.45,421.28 L691.99,421.53 L692.53,421.77 L693.08,422.01 L693.62,422.24 L694.16,422.47 L694.70,422.70 L695.25,422.93 L695.79,423.15 L696.33,423.37 L696.87,423.58 L697.41,423.79 L697.96,424.00 L698.50,424.21 L699.04,424.41 L699.58,424.61 L700.13,424.81 L700.67,425.01 L701.21,425.20 L701.75,425.39 L702.29,425.57 L702.84,425.76 L703.38,425.94 L703.92,426.11 L704.46,426.29 L705.01,426.46 L705.55,426.63 L706.09,426.79 L706.63,426.96 L707.18,427.12 L707.72,427.28 L708.26,427.43 L708.80,427.58 L709.34,427.73 L709.89,427.88 L710.43,428.03 L710.97,428.17 L711.51,428.31 L712.06,428.45 L712.60,428.58 L713.14,428.71 L713.68,428.84 L714.22,428.97 L714.77,429.10 L715.31,429.22 L715.85,429.34 L716.39,429.46 L716.94,429.57 L717.48,429.69 L718.02,429.80 L718.56,429.91 L719.10,430.02 L719.65,430.12 L720.19,430.23 L720.73,430.33 L721.27,430.43 L721.82,430.53 L722.36,430.62 L722.90,430.72 L723.44,430.81 L723.98,430.90 L724.53,430.99 L725.07,431.07 L725.61,431.16 L726.15,431.24 L726.70,431.32 L727.24,431.40 L727.78,431.48 L728.32,431.55 L728.86,431.63 L729.41,431.70 L729.95,431.77 L730.49,431.84 L731.03,431.91 L731.58,431.97 L732.12,432.04 L732.66,432.10 L733.20,432.17 L733.75,432.23 L734.29,432.29 L734.83,432.34 L735.37,432.40 L735.91,432.46 L736.46,432.51 L737.00,432.56 L737.54,432.61 L738.08,432.67 L738.63,432.71 L739.17,432.76 L739.71,432.81 L740.25,432.86 L740.79,432.90 L741.34,432.94 L741.88,432.99 L742.42,433.03 L742.96,433.07 L743.51,433.11 L744.05,433.15 L744.59,433.18 L745.13,433.22 L745.67,433.26 L746.22,433.29 L746.76,433.33 L747.30,433.36 L747.84,433.39 L748.39,433.42 L748.93,433.45 L749.47,433.48 L750.01,433.51 L750.55,433.54 L751.10,433.57 L751.64,433.59 L752.18,433.62 L752.72,433.65 L753.27,433.67 L753.81,433.69 L754.35,433.72 L754.89,433.74 L755.44,433.76 L755.98,433.78 L756.52,433.80 L757.06,433.83 L757.60,433.85 L758.15,433.86 L758.69,433.88 L759.23,433.90 L759.77,433.92 L760.32,433.94 L760.86,433.95 L761.40,433.97 L761.94,433.99 L762.48,434.00 L763.03,434.02 L763.57,434.03 L764.11,434.04 L764.65,434.06 L765.20,434.07 L765.74,434.08 L766.28,434.10 L766.82,434.11 L767.36,434.12 L767.91,434.13 L768.45,434.14 L768.99,434.15 L769.53,434.16 L770.08,434.17 L770.62,434.18 L771.16,434.19 L771.70,434.20 L772.24,434.21 L772.79,434.22 L773.33,434.23 L773.87,434.24 L774.41,434.24 L774.96,434.25 L775.50,434.26 L776.04,434.27 L776.58,434.27 L777.13,434.28 L777.67,434.29 L778.21,434.29 L778.75,434.30 L779.29,434.30 L779.84,434.31 L780.38,434.32 L780.92,434.32 L781.46,434.33 L782.01,434.33 L782.55,434.34 L783.09,434.34 L783.63,434.35 L784.17,434.35 L784.72,434.35 L785.26,434.36" stroke="#ff0000" stroke-width="2.95" stroke-dasharray="0.01 11.296" stroke-dashoffset="3.80"/>
<rect x="134.56" y="13.57" width="108.45" height="419.45" fill="rgba(178,178,178,0.45)" stroke="none"/>
<rect x="649.70" y="13.57" width="135.56" height="419.45" fill="rgba(178,178,178,0.45)" stroke="none"/>
<path d="M243.01,434.47 V13.57" stroke="#bebebe" stroke-width="1.413" stroke-dasharray="0.01 5.643"/>
<path d="M649.70,434.47 V13.57" stroke="#bebebe" stroke-width="1.413" stroke-dasharray="0.01 5.643"/>
</g>
<text x="134.16" y="483.01" text-anchor="middle"><tspan dy="2.3">−</tspan><tspan dy="-2.3">2</tspan></text>
<text x="243.01" y="483.01" text-anchor="middle">0</text>
<text x="351.46" y="483.01" text-anchor="middle">2</text>
<text x="459.91" y="483.01" text-anchor="middle">4</text>
<text x="568.36" y="483.01" text-anchor="middle">6</text>
<text x="676.81" y="483.01" text-anchor="middle">8</text>
<text x="785.26" y="483.01" text-anchor="middle">10</text>
<text transform="translate(75.97,434.47) rotate(-90)" text-anchor="middle">0.0</text>
<text transform="translate(75.97,374.18) rotate(-90)" text-anchor="middle">0.1</text>
<text transform="translate(75.97,313.89) rotate(-90)" text-anchor="middle">0.2</text>
<text transform="translate(75.97,253.60) rotate(-90)" text-anchor="middle">0.3</text>
<text transform="translate(75.97,193.31) rotate(-90)" text-anchor="middle">0.4</text>
<text transform="translate(75.97,133.03) rotate(-90)" text-anchor="middle">0.5</text>
<text transform="translate(75.97,72.74) rotate(-90)" text-anchor="middle">0.6</text>
<text transform="translate(21.11,224.02) rotate(-90)" text-anchor="middle">density</text>
<text transform="translate(447.15,532.2) scale(0.91,1)">y</text>
<path d="M465.43,513.50 L465.43,519.40 M462.88,514.98 L467.98,517.93 M462.88,517.93 L467.98,514.98" fill="none" stroke="#000" stroke-width="0.85" stroke-linecap="butt"/>
</svg></body></html>
